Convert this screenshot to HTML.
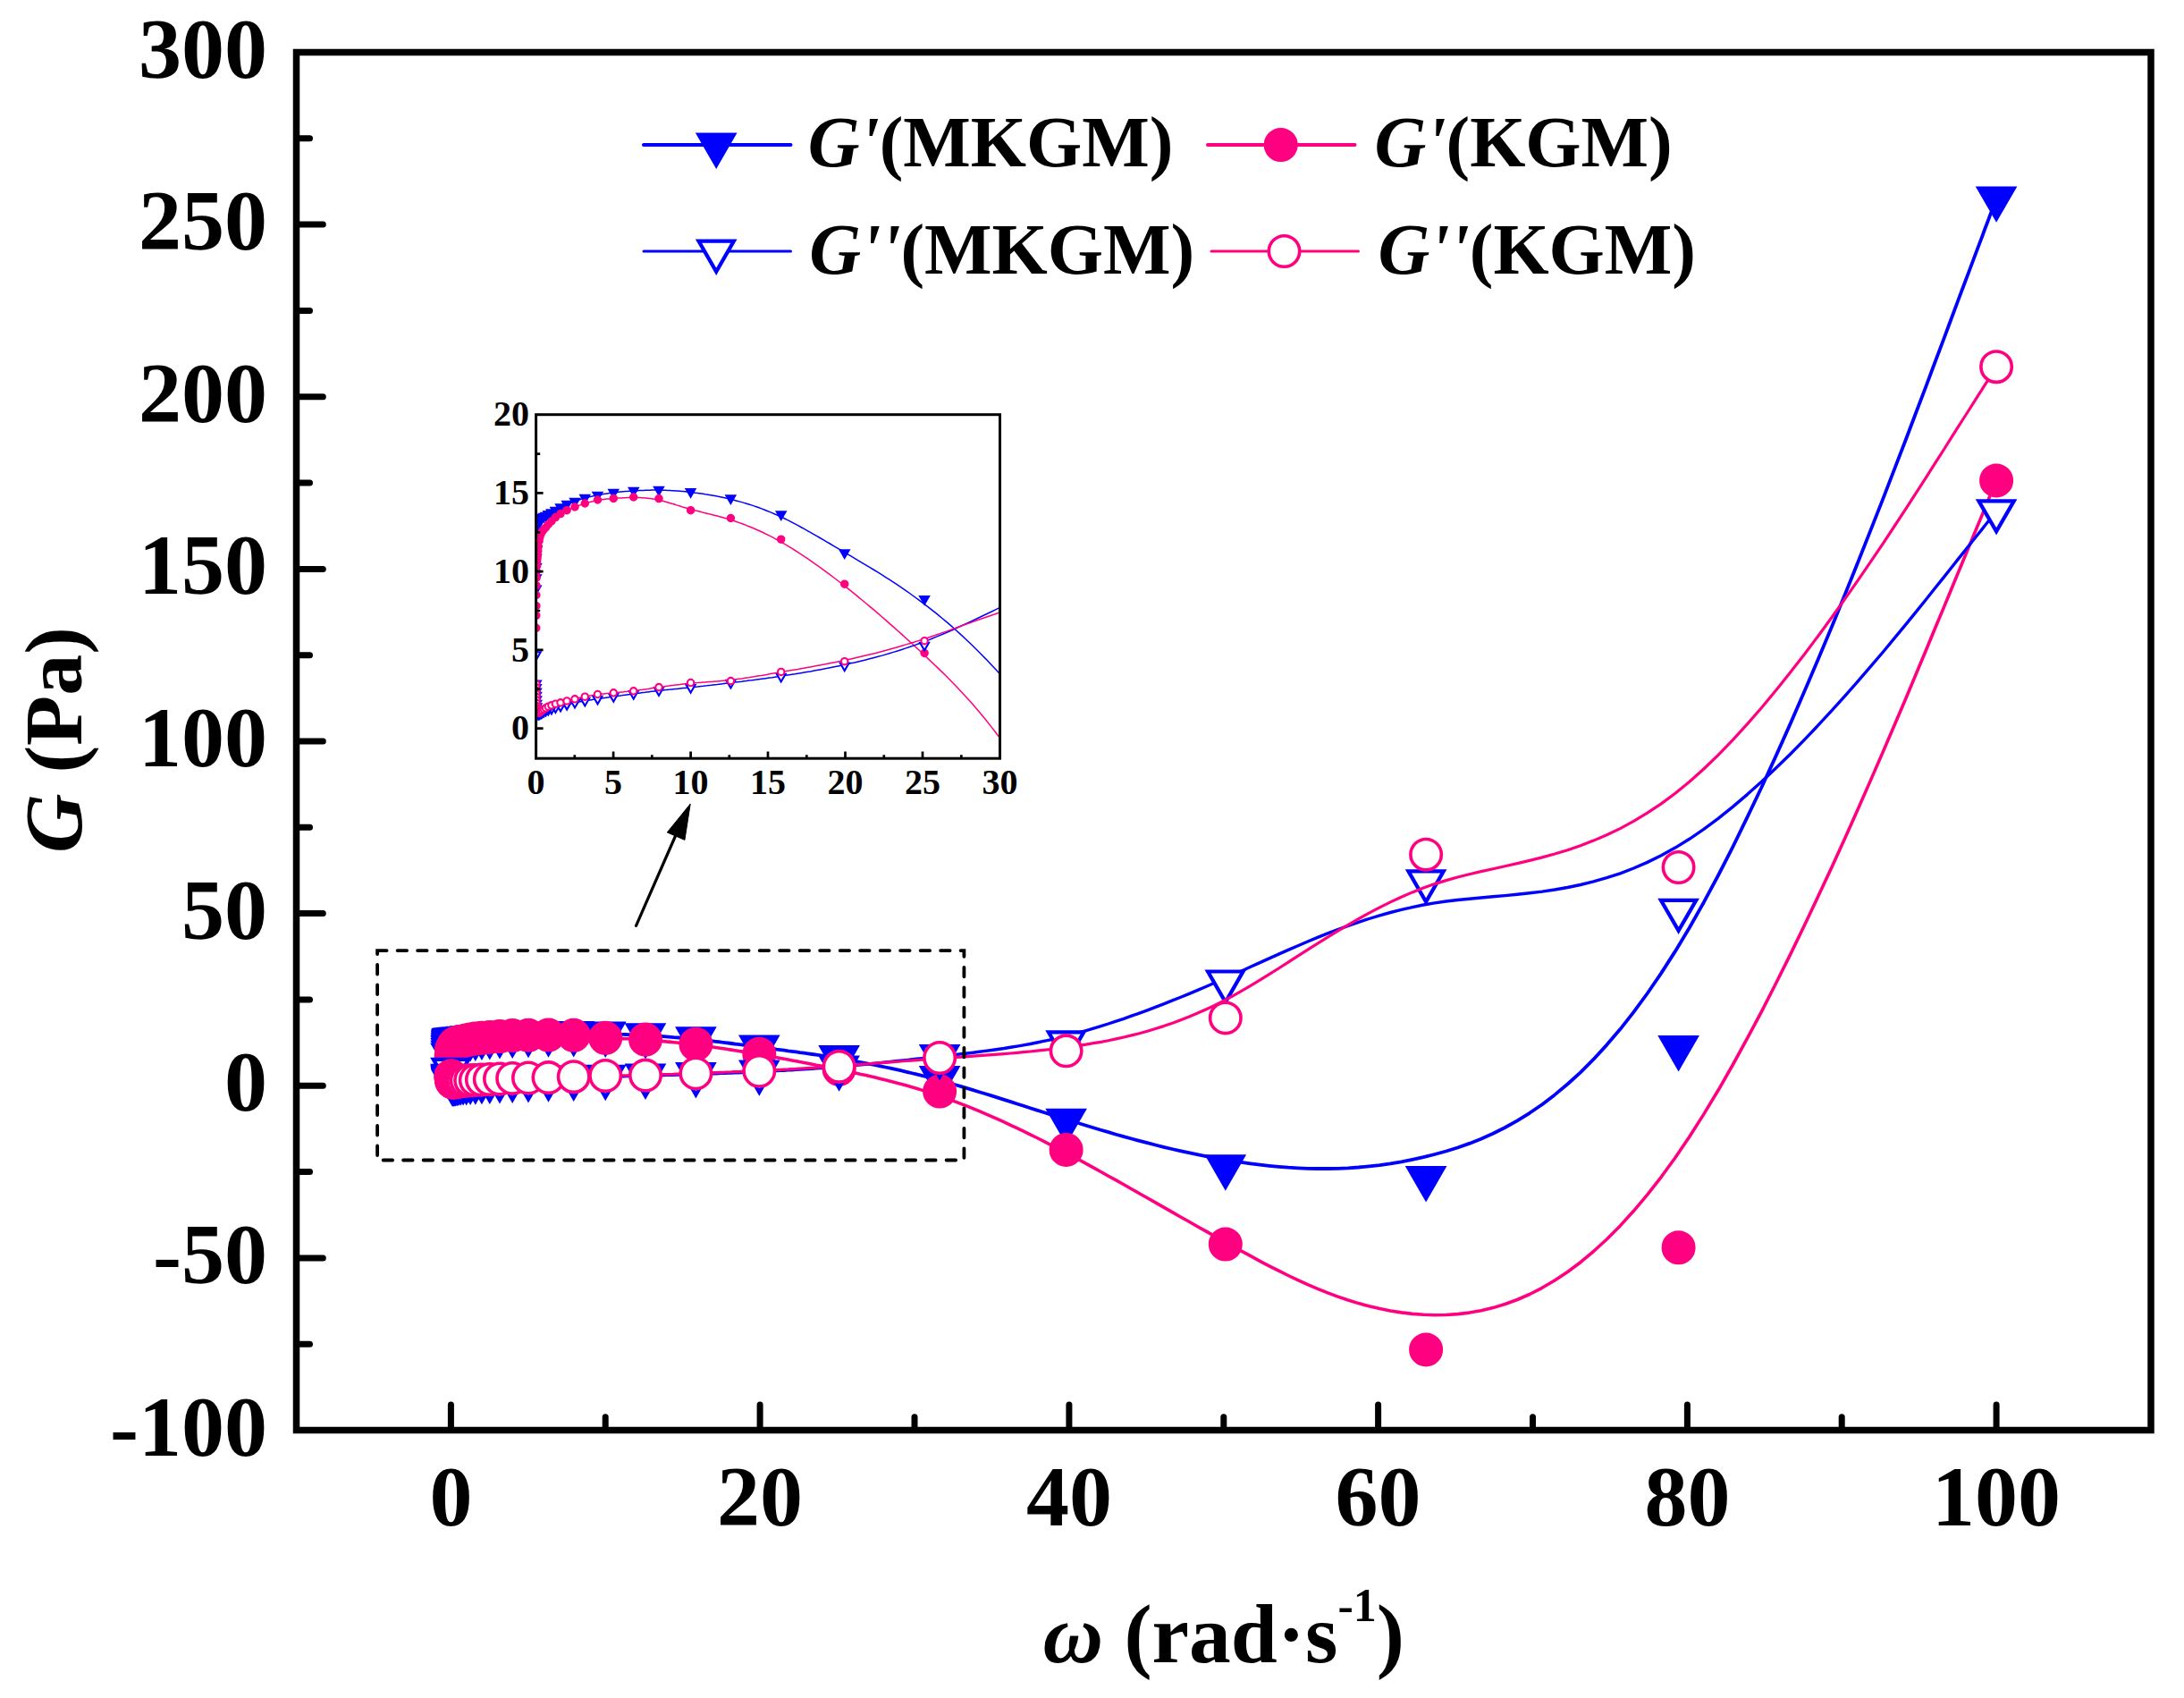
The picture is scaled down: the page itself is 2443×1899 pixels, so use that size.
<!DOCTYPE html>
<html lang="en"><head><meta charset="utf-8"><title>G vs omega</title>
<style>html,body{margin:0;padding:0;background:#fff}body{width:2443px;height:1899px;overflow:hidden}svg{display:block}text{font-family:"Liberation Serif",serif;font-weight:bold;fill:#000}.i{font-style:italic}</style></head><body>
<svg width="2443" height="1899" viewBox="0 0 2443 1899">
<rect width="2443" height="1899" fill="#fff"/>
<defs><clipPath id="cm"><rect x="331.5" y="58.5" width="2074.5" height="1541.0"/></clipPath>
<clipPath id="ci"><rect x="599.6" y="463.7" width="518.9" height="384.5"/></clipPath></defs>
<g clip-path="url(#cm)"><path d="M504.5 1180.0L504.5 1180.0L504.5 1180.0L504.5 1180.0L504.5 1180.0L504.5 1180.0L504.5 1180.0L504.5 1179.9L504.5 1179.9L504.5 1179.9L504.5 1179.9L504.5 1179.9L504.5 1179.9L504.5 1179.8L504.6 1179.8L504.6 1179.8L504.6 1179.7L504.6 1179.7L504.6 1179.6L504.6 1179.6L504.6 1179.5L504.6 1179.4L504.6 1179.4L504.6 1179.3L504.6 1179.2L504.6 1179.1L504.6 1179.0L504.6 1178.9L504.6 1178.8L504.6 1178.7L504.6 1178.6L504.6 1178.4L504.6 1178.3L504.6 1178.2L504.6 1178.1L504.6 1177.9L504.6 1177.8L504.6 1177.7L504.6 1177.5L504.6 1177.4L504.6 1177.3L504.6 1177.1L504.6 1177.0L504.6 1176.9L504.6 1176.7L504.6 1176.6L504.6 1176.5L504.6 1176.3L504.6 1176.2L504.6 1176.1L504.6 1175.9L504.6 1175.8L504.6 1175.7L504.6 1175.5L504.6 1175.4L504.6 1175.3L504.6 1175.1L504.6 1175.0L504.6 1174.9L504.6 1174.8L504.7 1174.6L504.7 1174.5L504.7 1174.4L504.7 1174.3L504.7 1174.1L504.7 1174.0L504.7 1173.9L504.7 1173.8L504.7 1173.7L504.7 1173.5L504.7 1173.4L504.7 1173.3L504.7 1173.2L504.7 1173.1L504.7 1173.0L504.7 1172.9L504.7 1172.8L504.7 1172.6L504.7 1172.5L504.7 1172.4L504.7 1172.3L504.7 1172.2L504.7 1172.1L504.7 1172.0L504.7 1171.9L504.7 1171.8L504.7 1171.7L504.8 1171.6L504.8 1171.5L504.8 1171.4L504.8 1171.3L504.8 1171.2L504.8 1171.1L504.8 1171.0L504.8 1170.9L504.8 1170.8L504.8 1170.7L504.8 1170.6L504.8 1170.5L504.8 1170.4L504.8 1170.3L504.8 1170.2L504.8 1170.1L504.8 1170.0L504.8 1169.9L504.8 1169.9L504.8 1169.8L504.8 1169.7L504.9 1169.6L504.9 1169.5L504.9 1169.4L504.9 1169.3L504.9 1169.2L504.9 1169.1L504.9 1169.0L504.9 1168.9L504.9 1168.8L504.9 1168.7L504.9 1168.6L504.9 1168.6L504.9 1168.5L504.9 1168.4L504.9 1168.3L504.9 1168.2L505.0 1168.1L505.0 1168.0L505.0 1168.0L505.0 1167.9L505.0 1167.8L505.0 1167.7L505.0 1167.7L505.0 1167.6L505.0 1167.5L505.0 1167.4L505.0 1167.4L505.0 1167.3L505.0 1167.2L505.0 1167.1L505.1 1167.1L505.1 1167.0L505.1 1166.9L505.1 1166.9L505.1 1166.8L505.1 1166.7L505.1 1166.7L505.1 1166.6L505.1 1166.5L505.1 1166.5L505.1 1166.4L505.1 1166.4L505.2 1166.3L505.2 1166.2L505.2 1166.2L505.2 1166.1L505.2 1166.1L505.2 1166.0L505.2 1166.0L505.2 1165.9L505.2 1165.8L505.2 1165.8L505.2 1165.7L505.3 1165.7L505.3 1165.6L505.3 1165.6L505.3 1165.5L505.3 1165.5L505.3 1165.4L505.3 1165.4L505.3 1165.3L505.3 1165.3L505.4 1165.2L505.4 1165.2L505.4 1165.1L505.4 1165.1L505.4 1165.0L505.4 1165.0L505.4 1165.0L505.4 1164.9L505.5 1164.9L505.5 1164.8L505.5 1164.8L505.5 1164.7L505.5 1164.7L505.5 1164.6L505.5 1164.6L505.5 1164.6L505.6 1164.5L505.6 1164.5L505.6 1164.4L505.6 1164.4L505.6 1164.4L505.6 1164.3L505.6 1164.3L505.7 1164.3L505.7 1164.2L505.7 1164.2L505.7 1164.1L505.7 1164.1L505.7 1164.1L505.7 1164.0L505.8 1164.0L505.8 1164.0L505.8 1163.9L505.8 1163.9L505.8 1163.9L505.8 1163.8L505.9 1163.8L505.9 1163.8L505.9 1163.8L505.9 1163.7L505.9 1163.7L505.9 1163.7L506.0 1163.6L506.0 1163.6L506.0 1163.6L506.0 1163.6L506.0 1163.5L506.1 1163.5L506.1 1163.5L506.1 1163.5L506.1 1163.5L506.1 1163.4L506.2 1163.4L506.2 1163.4L506.2 1163.4L506.2 1163.4L506.2 1163.4L506.3 1163.3L506.3 1163.3L506.3 1163.3L506.3 1163.3L506.4 1163.3L506.4 1163.3L506.4 1163.3L506.4 1163.3L506.4 1163.3L506.5 1163.2L506.5 1163.2L506.5 1163.2L506.5 1163.2L506.6 1163.2L506.6 1163.2L506.6 1163.2L506.6 1163.2L506.7 1163.2L506.7 1163.2L506.7 1163.1L506.8 1163.1L506.8 1163.1L506.8 1163.1L506.8 1163.1L506.9 1163.1L506.9 1163.1L506.9 1163.1L507.0 1163.1L507.0 1163.1L507.0 1163.1L507.0 1163.0L507.1 1163.0L507.1 1163.0L507.1 1163.0L507.2 1163.0L507.2 1163.0L507.2 1163.0L507.3 1163.0L507.3 1163.0L507.3 1163.0L507.4 1163.0L507.4 1163.0L507.4 1163.0L507.5 1163.0L507.5 1162.9L507.5 1162.9L507.6 1162.9L507.6 1162.9L507.7 1162.9L507.7 1162.9L507.7 1162.9L507.8 1162.9L507.8 1162.9L507.9 1162.9L507.9 1162.9L507.9 1162.9L508.0 1162.9L508.0 1162.9L508.1 1162.9L508.1 1162.9L508.1 1162.9L508.2 1162.8L508.2 1162.8L508.3 1162.8L508.3 1162.8L508.4 1162.8L508.4 1162.8L508.5 1162.8L508.5 1162.8L508.6 1162.8L508.6 1162.8L508.7 1162.8L508.7 1162.8L508.8 1162.8L508.8 1162.8L508.9 1162.8L508.9 1162.8L509.0 1162.7L509.0 1162.7L509.1 1162.7L509.1 1162.7L509.2 1162.7L509.2 1162.7L509.3 1162.7L509.3 1162.7L509.4 1162.7L509.5 1162.7L509.5 1162.7L509.6 1162.7L509.6 1162.7L509.7 1162.6L509.8 1162.6L509.8 1162.6L509.9 1162.6L510.0 1162.6L510.0 1162.6L510.1 1162.6L510.2 1162.6L510.2 1162.6L510.3 1162.6L510.4 1162.6L510.4 1162.6L510.5 1162.6L510.6 1162.5L510.6 1162.5L510.7 1162.5L510.8 1162.5L510.9 1162.5L510.9 1162.5L511.0 1162.5L511.1 1162.5L511.2 1162.5L511.2 1162.5L511.3 1162.5L511.4 1162.4L511.5 1162.4L511.6 1162.4L511.6 1162.4L511.7 1162.4L511.8 1162.4L511.9 1162.4L512.0 1162.4L512.1 1162.4L512.2 1162.4L512.3 1162.3L512.3 1162.3L512.4 1162.3L512.5 1162.3L512.6 1162.3L512.7 1162.3L512.8 1162.3L512.9 1162.3L513.0 1162.2L513.1 1162.2L513.2 1162.2L513.3 1162.2L513.4 1162.2L513.5 1162.2L513.6 1162.2L513.7 1162.2L513.8 1162.1L514.0 1162.1L514.1 1162.1L514.2 1162.1L514.3 1162.1L514.4 1162.1L514.5 1162.1L514.6 1162.0L514.8 1162.0L514.9 1162.0L515.0 1162.0L515.1 1162.0L515.3 1162.0L515.4 1162.0L515.5 1161.9L515.6 1161.9L515.8 1161.9L515.9 1161.9L516.0 1161.9L516.2 1161.9L516.3 1161.8L516.4 1161.8L516.6 1161.8L516.7 1161.8L516.9 1161.8L517.0 1161.8L517.2 1161.7L517.3 1161.7L517.5 1161.7L517.6 1161.7L517.8 1161.7L517.9 1161.7L518.1 1161.6L518.2 1161.6L518.4 1161.6L518.6 1161.6L518.7 1161.6L518.9 1161.5L519.0 1161.5L519.2 1161.5L519.4 1161.5L519.6 1161.5L519.7 1161.4L519.9 1161.4L520.1 1161.4L520.3 1161.4L520.5 1161.4L520.7 1161.3L520.8 1161.3L521.0 1161.3L521.2 1161.3L521.4 1161.3L521.6 1161.2L521.8 1161.2L522.0 1161.2L522.2 1161.2L522.4 1161.1L522.6 1161.1L522.8 1161.1L523.1 1161.1L523.3 1161.0L523.5 1161.0L523.7 1161.0L523.9 1161.0L524.2 1160.9L524.4 1160.9L524.6 1160.9L524.9 1160.8L525.1 1160.8L525.3 1160.8L525.6 1160.8L525.8 1160.7L526.1 1160.7L526.3 1160.7L526.6 1160.6L526.8 1160.6L527.1 1160.6L527.4 1160.5L527.6 1160.5L527.9 1160.5L528.2 1160.4L528.5 1160.4L528.7 1160.3L529.0 1160.3L529.3 1160.3L529.6 1160.2L529.9 1160.2L530.2 1160.2L530.5 1160.1L530.8 1160.1L531.1 1160.0L531.4 1160.0L531.7 1160.0L532.0 1159.9L532.3 1159.9L532.7 1159.9L533.0 1159.8L533.3 1159.8L533.7 1159.7L534.0 1159.7L534.3 1159.7L534.7 1159.6L535.0 1159.6L535.4 1159.5L535.7 1159.5L536.1 1159.5L536.5 1159.4L536.9 1159.4L537.2 1159.4L537.6 1159.3L538.0 1159.3L538.4 1159.3L538.8 1159.2L539.2 1159.2L539.6 1159.1L540.0 1159.1L540.4 1159.1L540.8 1159.0L541.2 1159.0L541.7 1159.0L542.1 1158.9L542.5 1158.9L543.0 1158.9L543.4 1158.8L543.9 1158.8L544.3 1158.8L544.8 1158.7L545.3 1158.7L545.7 1158.7L546.2 1158.6L546.7 1158.6L547.2 1158.5L547.7 1158.5L548.2 1158.5L548.7 1158.4L549.2 1158.4L549.7 1158.3L550.2 1158.3L550.8 1158.3L551.3 1158.2L551.9 1158.2L552.4 1158.1L553.0 1158.1L553.5 1158.1L554.1 1158.0L554.7 1158.0L555.3 1157.9L555.8 1157.9L556.4 1157.9L557.0 1157.8L557.7 1157.8L558.3 1157.7L558.9 1157.7L559.5 1157.7L560.2 1157.6L560.8 1157.6L561.5 1157.5L562.1 1157.5L562.8 1157.5L563.5 1157.4L564.2 1157.4L564.8 1157.4L565.5 1157.3L566.3 1157.3L567.0 1157.3L567.7 1157.2L568.4 1157.2L569.2 1157.2L569.9 1157.1L570.7 1157.1L571.5 1157.1L572.2 1157.0L573.0 1157.0L573.8 1157.0L574.6 1156.9L575.4 1156.9L576.2 1156.9L577.1 1156.8L577.9 1156.8L578.8 1156.8L579.6 1156.7L580.5 1156.7L581.4 1156.7L582.3 1156.6L583.2 1156.6L584.1 1156.6L585.0 1156.5L586.0 1156.5L586.9 1156.5L587.9 1156.4L588.8 1156.4L589.8 1156.4L590.8 1156.3L591.8 1156.3L592.8 1156.3L593.8 1156.3L594.9 1156.2L595.9 1156.2L597.0 1156.2L598.0 1156.2L599.1 1156.1L600.2 1156.1L601.3 1156.1L602.5 1156.1L603.6 1156.1L604.7 1156.0L605.9 1156.0L607.1 1156.0L608.3 1156.0L609.5 1156.0L610.7 1156.0L611.9 1155.9L613.2 1155.9L614.4 1155.9L615.7 1155.9L617.0 1155.9L618.3 1155.9L619.6 1155.8L620.9 1155.8L622.3 1155.8L623.7 1155.8L625.0 1155.8L626.4 1155.8L627.8 1155.8L629.3 1155.8L630.7 1155.8L632.2 1155.7L633.7 1155.7L635.2 1155.7L636.7 1155.7L638.2 1155.7L639.8 1155.7L641.3 1155.7L642.9 1155.7L644.5 1155.8L646.1 1155.8L647.8 1155.8L649.4 1155.8L651.1 1155.8L652.8 1155.8L654.5 1155.8L656.3 1155.9L658.0 1155.9L659.8 1155.9L661.6 1155.9L663.4 1156.0L665.3 1156.0L667.1 1156.0L669.0 1156.1L670.9 1156.1L672.9 1156.2L674.8 1156.2L676.8 1156.2L678.8 1156.3L680.8 1156.3L682.8 1156.4L684.9 1156.5L687.0 1156.5L689.1 1156.6L691.3 1156.7L693.4 1156.7L695.6 1156.8L697.8 1156.9L700.1 1157.0L702.3 1157.1L704.6 1157.2L706.9 1157.3L709.3 1157.4L711.7 1157.5L714.1 1157.6L716.5 1157.7L718.9 1157.8L721.4 1158.0L723.9 1158.1L726.5 1158.2L729.1 1158.4L731.7 1158.5L734.3 1158.7L737.0 1158.9L739.6 1159.0L742.4 1159.2L745.1 1159.4L747.9 1159.6L750.7 1159.8L753.6 1160.1L756.5 1160.3L759.4 1160.5L762.3 1160.8L765.3 1161.1L768.4 1161.3L771.4 1161.6L774.5 1161.9L777.6 1162.2L780.8 1162.6L784.0 1162.9L787.2 1163.3L790.5 1163.6L793.8 1164.0L797.2 1164.4L800.6 1164.8L804.0 1165.2L807.5 1165.7L811.0 1166.1L814.5 1166.5L818.1 1167.0L821.7 1167.5L825.4 1167.9L829.1 1168.4L832.9 1168.9L836.7 1169.4L840.6 1169.9L844.4 1170.4L848.4 1170.9L852.4 1171.4L856.4 1171.9L860.5 1172.5L864.6 1173.0L868.8 1173.6L873.0 1174.1L877.3 1174.7L881.6 1175.3L885.9 1175.8L890.4 1176.4L894.8 1177.1L899.3 1177.7L903.9 1178.4L908.5 1179.0L913.2 1179.7L918.0 1180.4L922.8 1181.2L927.6 1181.9L932.5 1182.7L937.5 1183.6L942.5 1184.4L947.5 1185.3L952.7 1186.2L957.9 1187.1L963.1 1188.1L968.4 1189.1L973.8 1190.1L979.2 1191.2L984.7 1192.3L990.3 1193.5L995.9 1194.7L1001.6 1195.9L1007.4 1197.2L1013.2 1198.6L1019.1 1200.0L1025.1 1201.4L1031.1 1202.9L1037.2 1204.5L1043.4 1206.1L1049.6 1207.8L1055.9 1209.5L1062.3 1211.3L1068.8 1213.2L1075.3 1215.1L1081.9 1217.1L1088.6 1219.1L1095.3 1221.2L1102.2 1223.3L1109.1 1225.4L1116.1 1227.6L1123.2 1229.9L1130.4 1232.1L1137.6 1234.5L1144.9 1236.8L1152.4 1239.2L1159.9 1241.6L1167.5 1244.0L1175.1 1246.4L1182.9 1248.9L1190.8 1251.3L1198.7 1253.8L1206.8 1256.3L1214.9 1258.8L1223.1 1261.3L1231.4 1263.8L1239.8 1266.2L1248.4 1268.7L1257.0 1271.1L1265.7 1273.5L1274.5 1275.9L1283.4 1278.2L1292.4 1280.5L1301.6 1282.8L1310.8 1285.0L1320.1 1287.1L1329.6 1289.2L1339.1 1291.1L1348.8 1293.1L1358.6 1294.9L1368.5 1296.6L1378.5 1298.3L1388.6 1299.9L1398.9 1301.3L1409.2 1302.6L1419.7 1303.8L1430.3 1304.8L1441.0 1305.7L1451.8 1306.3L1462.8 1306.8L1473.9 1307.0L1485.1 1307.0L1496.5 1306.8L1508.0 1306.3L1519.6 1305.5L1531.4 1304.4L1543.3 1303.1L1555.3 1301.4L1567.5 1299.3L1579.8 1296.9L1592.2 1294.2L1604.8 1291.0L1617.6 1287.5L1630.5 1283.5L1643.5 1278.9L1656.7 1273.7L1670.0 1267.7L1683.5 1261.0L1697.2 1253.4L1711.0 1244.8L1725.0 1235.2L1739.1 1224.4L1753.4 1212.5L1767.9 1199.3L1782.5 1184.7L1797.3 1168.6L1812.3 1151.1L1827.4 1131.9L1842.7 1111.0L1858.2 1088.4L1873.9 1063.9L1889.8 1037.5L1905.8 1009.2L1922.0 979.0L1938.2 947.3L1954.4 914.2L1970.7 880.0L1986.8 844.9L2002.8 809.1L2018.6 772.8L2034.2 736.3L2049.5 699.7L2064.4 663.3L2078.9 627.3L2092.9 591.9L2106.5 557.4L2119.4 523.9L2131.8 491.7L2143.4 461.0L2154.4 432.1L2164.5 405.0L2173.9 380.1L2182.3 357.5L2189.9 337.2L2196.7 319.0L2202.8 302.9L2208.1 288.6L2212.8 276.1L2216.9 265.3L2220.3 256.0L2223.3 248.2L2225.7 241.6L2227.7 236.3L2229.3 232.0L2230.6 228.6L2231.5 226.1L2232.2 224.3L2232.7 223.1L2232.9 222.4L2233.1 222.0L2233.1 221.9L2233.1 221.8" fill="none" stroke="#0000ff" stroke-width="3.8" stroke-linejoin="round"/><path d="M484.8 1168.6 L524.2 1168.6 L504.5 1202.7ZM484.9 1165.9 L524.3 1165.9 L504.6 1200.0ZM484.9 1163.2 L524.3 1163.2 L504.6 1197.3ZM485.0 1160.9 L524.4 1160.9 L504.7 1195.0ZM485.1 1159.0 L524.5 1159.0 L504.8 1193.1ZM485.2 1157.0 L524.6 1157.0 L504.9 1191.2ZM485.4 1155.5 L524.8 1155.5 L505.1 1189.6ZM485.5 1154.3 L524.9 1154.3 L505.2 1188.5ZM485.8 1153.4 L525.2 1153.4 L505.5 1187.5ZM486.0 1152.6 L525.4 1152.6 L505.7 1186.7ZM486.4 1152.0 L525.8 1152.0 L506.1 1186.1ZM486.9 1151.8 L526.3 1151.8 L506.6 1186.0ZM487.4 1151.6 L526.8 1151.6 L507.1 1185.8ZM488.1 1151.5 L527.5 1151.5 L507.8 1185.6ZM489.0 1151.4 L528.4 1151.4 L508.7 1185.5ZM490.1 1151.3 L529.5 1151.3 L509.8 1185.4ZM491.6 1151.1 L531.0 1151.1 L511.3 1185.2ZM493.3 1150.9 L532.7 1150.9 L513.0 1185.0ZM495.6 1150.6 L535.0 1150.6 L515.3 1184.7ZM498.4 1150.3 L537.8 1150.3 L518.1 1184.4ZM502.0 1149.9 L541.4 1149.9 L521.7 1184.0ZM506.4 1149.3 L545.8 1149.3 L526.1 1183.4ZM512.1 1148.6 L551.5 1148.6 L531.8 1182.7ZM519.2 1147.8 L558.6 1147.8 L538.9 1181.9ZM528.1 1147.1 L567.5 1147.1 L547.8 1181.3ZM539.3 1146.2 L578.7 1146.2 L559.0 1180.4ZM553.5 1145.6 L592.9 1145.6 L573.2 1179.7ZM571.3 1144.9 L610.7 1144.9 L591.0 1179.0ZM593.8 1144.5 L633.2 1144.5 L613.5 1178.6ZM622.0 1144.2 L661.4 1144.2 L641.7 1178.4ZM657.5 1144.7 L697.0 1144.7 L677.2 1178.9ZM702.3 1146.3 L741.7 1146.3 L722.0 1180.4ZM758.7 1150.3 L798.1 1150.3 L778.4 1184.4ZM829.6 1159.7 L869.0 1159.7 L849.3 1193.8ZM918.9 1171.1 L958.3 1171.1 L938.6 1205.2ZM1031.4 1194.0 L1070.8 1194.0 L1051.1 1228.1ZM1172.9 1241.8 L1212.3 1241.8 L1192.6 1275.9ZM1351.1 1293.4 L1390.5 1293.4 L1370.8 1327.5ZM1575.4 1306.1 L1614.8 1306.1 L1595.1 1340.2ZM1857.9 1160.1 L1897.3 1160.1 L1877.6 1194.2ZM2213.4 210.5 L2252.8 210.5 L2233.1 244.6Z" fill="#0000ff" stroke="#0000ff" stroke-width="4.2" stroke-linejoin="miter"/></g>
<g clip-path="url(#cm)"><path d="M504.5 1189.6L504.5 1189.6L504.5 1189.6L504.5 1189.6L504.5 1189.6L504.5 1189.6L504.5 1189.6L504.5 1189.6L504.5 1189.6L504.5 1189.5L504.5 1189.5L504.5 1189.5L504.5 1189.5L504.5 1189.5L504.6 1189.4L504.6 1189.4L504.6 1189.3L504.6 1189.3L504.6 1189.2L504.6 1189.2L504.6 1189.1L504.6 1189.0L504.6 1188.9L504.6 1188.8L504.6 1188.7L504.6 1188.6L504.6 1188.5L504.6 1188.4L504.6 1188.3L504.6 1188.1L504.6 1188.0L504.6 1187.9L504.6 1187.7L504.6 1187.6L504.6 1187.5L504.6 1187.3L504.6 1187.2L504.6 1187.1L504.6 1186.9L504.6 1186.8L504.6 1186.6L504.6 1186.5L504.6 1186.4L504.6 1186.2L504.6 1186.1L504.6 1186.0L504.6 1185.9L504.6 1185.7L504.6 1185.6L504.6 1185.5L504.6 1185.4L504.6 1185.2L504.6 1185.1L504.6 1185.0L504.6 1184.9L504.6 1184.8L504.6 1184.6L504.6 1184.5L504.6 1184.4L504.6 1184.3L504.7 1184.1L504.7 1184.0L504.7 1183.9L504.7 1183.8L504.7 1183.6L504.7 1183.5L504.7 1183.4L504.7 1183.2L504.7 1183.1L504.7 1183.0L504.7 1182.9L504.7 1182.7L504.7 1182.6L504.7 1182.5L504.7 1182.3L504.7 1182.2L504.7 1182.1L504.7 1181.9L504.7 1181.8L504.7 1181.7L504.7 1181.6L504.7 1181.4L504.7 1181.3L504.7 1181.2L504.7 1181.1L504.7 1181.0L504.7 1180.8L504.8 1180.7L504.8 1180.6L504.8 1180.5L504.8 1180.4L504.8 1180.2L504.8 1180.1L504.8 1180.0L504.8 1179.9L504.8 1179.8L504.8 1179.7L504.8 1179.6L504.8 1179.5L504.8 1179.4L504.8 1179.3L504.8 1179.2L504.8 1179.0L504.8 1178.9L504.8 1178.8L504.8 1178.7L504.8 1178.6L504.8 1178.5L504.9 1178.4L504.9 1178.3L504.9 1178.2L504.9 1178.1L504.9 1178.1L504.9 1178.0L504.9 1177.9L504.9 1177.8L504.9 1177.7L504.9 1177.6L504.9 1177.5L504.9 1177.4L504.9 1177.3L504.9 1177.2L504.9 1177.2L504.9 1177.1L505.0 1177.0L505.0 1176.9L505.0 1176.8L505.0 1176.7L505.0 1176.7L505.0 1176.6L505.0 1176.5L505.0 1176.4L505.0 1176.4L505.0 1176.3L505.0 1176.2L505.0 1176.1L505.0 1176.1L505.0 1176.0L505.1 1175.9L505.1 1175.8L505.1 1175.8L505.1 1175.7L505.1 1175.6L505.1 1175.5L505.1 1175.5L505.1 1175.4L505.1 1175.3L505.1 1175.3L505.1 1175.2L505.1 1175.1L505.2 1175.1L505.2 1175.0L505.2 1174.9L505.2 1174.9L505.2 1174.8L505.2 1174.7L505.2 1174.7L505.2 1174.6L505.2 1174.6L505.2 1174.5L505.2 1174.4L505.3 1174.4L505.3 1174.3L505.3 1174.3L505.3 1174.2L505.3 1174.2L505.3 1174.1L505.3 1174.1L505.3 1174.0L505.3 1174.0L505.4 1173.9L505.4 1173.9L505.4 1173.8L505.4 1173.8L505.4 1173.7L505.4 1173.7L505.4 1173.6L505.4 1173.6L505.5 1173.5L505.5 1173.5L505.5 1173.4L505.5 1173.4L505.5 1173.4L505.5 1173.3L505.5 1173.3L505.5 1173.2L505.6 1173.2L505.6 1173.2L505.6 1173.1L505.6 1173.1L505.6 1173.0L505.6 1173.0L505.6 1173.0L505.7 1172.9L505.7 1172.9L505.7 1172.8L505.7 1172.8L505.7 1172.8L505.7 1172.7L505.7 1172.7L505.8 1172.6L505.8 1172.6L505.8 1172.6L505.8 1172.5L505.8 1172.5L505.8 1172.4L505.9 1172.4L505.9 1172.4L505.9 1172.3L505.9 1172.3L505.9 1172.2L505.9 1172.2L506.0 1172.2L506.0 1172.1L506.0 1172.1L506.0 1172.0L506.0 1172.0L506.1 1171.9L506.1 1171.9L506.1 1171.9L506.1 1171.8L506.1 1171.8L506.2 1171.7L506.2 1171.7L506.2 1171.6L506.2 1171.6L506.2 1171.5L506.3 1171.5L506.3 1171.4L506.3 1171.3L506.3 1171.3L506.4 1171.2L506.4 1171.2L506.4 1171.1L506.4 1171.1L506.4 1171.0L506.5 1170.9L506.5 1170.9L506.5 1170.8L506.5 1170.8L506.6 1170.7L506.6 1170.7L506.6 1170.6L506.6 1170.5L506.7 1170.5L506.7 1170.4L506.7 1170.4L506.8 1170.3L506.8 1170.3L506.8 1170.2L506.8 1170.1L506.9 1170.1L506.9 1170.0L506.9 1170.0L507.0 1169.9L507.0 1169.8L507.0 1169.8L507.0 1169.7L507.1 1169.7L507.1 1169.6L507.1 1169.5L507.2 1169.5L507.2 1169.4L507.2 1169.3L507.3 1169.3L507.3 1169.2L507.3 1169.1L507.4 1169.1L507.4 1169.0L507.4 1169.0L507.5 1168.9L507.5 1168.8L507.5 1168.8L507.6 1168.7L507.6 1168.6L507.7 1168.6L507.7 1168.5L507.7 1168.5L507.8 1168.4L507.8 1168.3L507.9 1168.3L507.9 1168.2L507.9 1168.2L508.0 1168.1L508.0 1168.1L508.1 1168.0L508.1 1167.9L508.1 1167.9L508.2 1167.8L508.2 1167.8L508.3 1167.7L508.3 1167.7L508.4 1167.6L508.4 1167.6L508.5 1167.6L508.5 1167.5L508.6 1167.5L508.6 1167.4L508.7 1167.4L508.7 1167.3L508.8 1167.3L508.8 1167.2L508.9 1167.2L508.9 1167.2L509.0 1167.1L509.0 1167.1L509.1 1167.0L509.1 1167.0L509.2 1167.0L509.2 1166.9L509.3 1166.9L509.3 1166.8L509.4 1166.8L509.5 1166.8L509.5 1166.7L509.6 1166.7L509.6 1166.6L509.7 1166.6L509.8 1166.6L509.8 1166.5L509.9 1166.5L510.0 1166.5L510.0 1166.4L510.1 1166.4L510.2 1166.4L510.2 1166.3L510.3 1166.3L510.4 1166.3L510.4 1166.3L510.5 1166.2L510.6 1166.2L510.6 1166.2L510.7 1166.1L510.8 1166.1L510.9 1166.1L510.9 1166.1L511.0 1166.0L511.1 1166.0L511.2 1166.0L511.2 1165.9L511.3 1165.9L511.4 1165.9L511.5 1165.9L511.6 1165.8L511.6 1165.8L511.7 1165.8L511.8 1165.8L511.9 1165.7L512.0 1165.7L512.1 1165.7L512.2 1165.7L512.3 1165.6L512.3 1165.6L512.4 1165.6L512.5 1165.6L512.6 1165.5L512.7 1165.5L512.8 1165.5L512.9 1165.5L513.0 1165.4L513.1 1165.4L513.2 1165.4L513.3 1165.4L513.4 1165.3L513.5 1165.3L513.6 1165.3L513.7 1165.3L513.8 1165.2L514.0 1165.2L514.1 1165.2L514.2 1165.2L514.3 1165.1L514.4 1165.1L514.5 1165.1L514.6 1165.1L514.8 1165.0L514.9 1165.0L515.0 1165.0L515.1 1164.9L515.3 1164.9L515.4 1164.9L515.5 1164.9L515.6 1164.8L515.8 1164.8L515.9 1164.8L516.0 1164.7L516.2 1164.7L516.3 1164.7L516.4 1164.6L516.6 1164.6L516.7 1164.5L516.9 1164.5L517.0 1164.5L517.2 1164.4L517.3 1164.4L517.5 1164.4L517.6 1164.3L517.8 1164.3L517.9 1164.2L518.1 1164.2L518.2 1164.2L518.4 1164.1L518.6 1164.1L518.7 1164.1L518.9 1164.0L519.0 1164.0L519.2 1163.9L519.4 1163.9L519.6 1163.9L519.7 1163.8L519.9 1163.8L520.1 1163.7L520.3 1163.7L520.5 1163.7L520.7 1163.6L520.8 1163.6L521.0 1163.5L521.2 1163.5L521.4 1163.5L521.6 1163.4L521.8 1163.4L522.0 1163.3L522.2 1163.3L522.4 1163.2L522.6 1163.2L522.8 1163.1L523.1 1163.1L523.3 1163.1L523.5 1163.0L523.7 1163.0L523.9 1162.9L524.2 1162.9L524.4 1162.8L524.6 1162.8L524.9 1162.7L525.1 1162.7L525.3 1162.6L525.6 1162.6L525.8 1162.5L526.1 1162.5L526.3 1162.4L526.6 1162.4L526.8 1162.4L527.1 1162.3L527.4 1162.3L527.6 1162.2L527.9 1162.2L528.2 1162.1L528.5 1162.1L528.7 1162.0L529.0 1162.0L529.3 1161.9L529.6 1161.9L529.9 1161.9L530.2 1161.8L530.5 1161.8L530.8 1161.7L531.1 1161.7L531.4 1161.6L531.7 1161.6L532.0 1161.6L532.3 1161.5L532.7 1161.5L533.0 1161.4L533.3 1161.4L533.7 1161.3L534.0 1161.3L534.3 1161.3L534.7 1161.2L535.0 1161.2L535.4 1161.1L535.7 1161.1L536.1 1161.0L536.5 1161.0L536.9 1161.0L537.2 1160.9L537.6 1160.9L538.0 1160.8L538.4 1160.8L538.8 1160.7L539.2 1160.7L539.6 1160.7L540.0 1160.6L540.4 1160.6L540.8 1160.5L541.2 1160.5L541.7 1160.4L542.1 1160.4L542.5 1160.4L543.0 1160.3L543.4 1160.3L543.9 1160.2L544.3 1160.2L544.8 1160.1L545.3 1160.1L545.7 1160.1L546.2 1160.0L546.7 1160.0L547.2 1159.9L547.7 1159.9L548.2 1159.9L548.7 1159.8L549.2 1159.8L549.7 1159.7L550.2 1159.7L550.8 1159.6L551.3 1159.6L551.9 1159.6L552.4 1159.5L553.0 1159.5L553.5 1159.4L554.1 1159.4L554.7 1159.3L555.3 1159.3L555.8 1159.3L556.4 1159.2L557.0 1159.2L557.7 1159.1L558.3 1159.1L558.9 1159.0L559.5 1159.0L560.2 1159.0L560.8 1158.9L561.5 1158.9L562.1 1158.8L562.8 1158.8L563.5 1158.7L564.2 1158.7L564.8 1158.7L565.5 1158.6L566.3 1158.6L567.0 1158.5L567.7 1158.5L568.4 1158.5L569.2 1158.4L569.9 1158.4L570.7 1158.3L571.5 1158.3L572.2 1158.3L573.0 1158.2L573.8 1158.2L574.6 1158.2L575.4 1158.1L576.2 1158.1L577.1 1158.1L577.9 1158.1L578.8 1158.0L579.6 1158.0L580.5 1158.0L581.4 1158.0L582.3 1158.0L583.2 1157.9L584.1 1157.9L585.0 1157.9L586.0 1157.9L586.9 1157.9L587.9 1157.8L588.8 1157.8L589.8 1157.8L590.8 1157.8L591.8 1157.8L592.8 1157.8L593.8 1157.7L594.9 1157.7L595.9 1157.7L597.0 1157.7L598.0 1157.7L599.1 1157.7L600.2 1157.7L601.3 1157.6L602.5 1157.6L603.6 1157.6L604.7 1157.6L605.9 1157.6L607.1 1157.6L608.3 1157.6L609.5 1157.6L610.7 1157.6L611.9 1157.6L613.2 1157.6L614.4 1157.6L615.7 1157.6L617.0 1157.6L618.3 1157.6L619.6 1157.6L620.9 1157.6L622.3 1157.6L623.7 1157.6L625.0 1157.7L626.4 1157.7L627.8 1157.7L629.3 1157.7L630.7 1157.8L632.2 1157.8L633.7 1157.9L635.2 1157.9L636.7 1158.0L638.2 1158.0L639.8 1158.1L641.3 1158.2L642.9 1158.2L644.5 1158.3L646.1 1158.4L647.8 1158.5L649.4 1158.6L651.1 1158.7L652.8 1158.8L654.5 1158.9L656.3 1159.0L658.0 1159.2L659.8 1159.3L661.6 1159.4L663.4 1159.5L665.3 1159.7L667.1 1159.8L669.0 1159.9L670.9 1160.0L672.9 1160.2L674.8 1160.3L676.8 1160.4L678.8 1160.5L680.8 1160.7L682.8 1160.8L684.9 1160.9L687.0 1161.0L689.1 1161.1L691.3 1161.2L693.4 1161.4L695.6 1161.5L697.8 1161.6L700.1 1161.7L702.3 1161.8L704.6 1162.0L706.9 1162.1L709.3 1162.2L711.7 1162.4L714.1 1162.5L716.5 1162.7L718.9 1162.8L721.4 1163.0L723.9 1163.2L726.5 1163.4L729.1 1163.5L731.7 1163.7L734.3 1164.0L737.0 1164.2L739.6 1164.4L742.4 1164.6L745.1 1164.9L747.9 1165.1L750.7 1165.4L753.6 1165.7L756.5 1166.0L759.4 1166.3L762.3 1166.6L765.3 1166.9L768.4 1167.3L771.4 1167.6L774.5 1168.0L777.6 1168.4L780.8 1168.8L784.0 1169.2L787.2 1169.6L790.5 1170.1L793.8 1170.5L797.2 1171.0L800.6 1171.5L804.0 1172.0L807.5 1172.5L811.0 1173.0L814.5 1173.6L818.1 1174.1L821.7 1174.7L825.4 1175.3L829.1 1175.9L832.9 1176.5L836.7 1177.1L840.6 1177.8L844.4 1178.4L848.4 1179.1L852.4 1179.8L856.4 1180.5L860.5 1181.2L864.6 1182.0L868.8 1182.7L873.0 1183.5L877.3 1184.3L881.6 1185.1L885.9 1185.9L890.4 1186.7L894.8 1187.6L899.3 1188.4L903.9 1189.3L908.5 1190.2L913.2 1191.2L918.0 1192.1L922.8 1193.0L927.6 1194.0L932.5 1195.0L937.5 1196.0L942.5 1197.1L947.5 1198.1L952.7 1199.2L957.9 1200.3L963.1 1201.5L968.4 1202.6L973.8 1203.8L979.2 1205.1L984.7 1206.4L990.3 1207.8L995.9 1209.2L1001.6 1210.7L1007.4 1212.2L1013.2 1213.8L1019.1 1215.5L1025.1 1217.3L1031.1 1219.1L1037.2 1221.0L1043.4 1223.0L1049.6 1225.1L1055.9 1227.3L1062.3 1229.7L1068.8 1232.1L1075.3 1234.6L1081.9 1237.2L1088.6 1239.9L1095.3 1242.7L1102.2 1245.6L1109.1 1248.6L1116.1 1251.7L1123.2 1254.9L1130.4 1258.3L1137.6 1261.7L1144.9 1265.2L1152.4 1268.8L1159.9 1272.5L1167.5 1276.3L1175.1 1280.3L1182.9 1284.3L1190.8 1288.4L1198.7 1292.6L1206.8 1296.9L1214.9 1301.4L1223.1 1305.9L1231.4 1310.5L1239.8 1315.2L1248.4 1319.9L1257.0 1324.8L1265.7 1329.7L1274.5 1334.7L1283.4 1339.8L1292.4 1344.9L1301.6 1350.1L1310.8 1355.4L1320.1 1360.7L1329.6 1366.0L1339.1 1371.5L1348.8 1376.9L1358.6 1382.4L1368.5 1387.9L1378.5 1393.5L1388.6 1399.1L1398.9 1404.7L1409.2 1410.3L1419.7 1415.8L1430.3 1421.2L1441.0 1426.5L1451.8 1431.6L1462.8 1436.6L1473.9 1441.3L1485.1 1445.8L1496.5 1450.1L1508.0 1454.0L1519.6 1457.6L1531.4 1460.8L1543.3 1463.6L1555.3 1466.0L1567.5 1467.9L1579.8 1469.4L1592.2 1470.3L1604.8 1470.7L1617.6 1470.5L1630.5 1469.6L1643.5 1468.1L1656.7 1465.8L1670.0 1462.6L1683.5 1458.5L1697.2 1453.5L1711.0 1447.5L1725.0 1440.3L1739.1 1432.0L1753.4 1422.5L1767.9 1411.7L1782.5 1399.5L1797.3 1386.0L1812.3 1370.9L1827.4 1354.3L1842.7 1336.1L1858.2 1316.3L1873.9 1294.7L1889.8 1271.3L1905.8 1246.1L1922.0 1219.3L1938.2 1191.0L1954.4 1161.4L1970.7 1130.8L1986.8 1099.3L2002.8 1067.1L2018.6 1034.5L2034.2 1001.6L2049.5 968.7L2064.4 935.9L2078.9 903.5L2092.9 871.6L2106.5 840.4L2119.4 810.2L2131.8 781.2L2143.4 753.5L2154.4 727.3L2164.5 702.8L2173.9 680.4L2182.3 660.0L2189.9 641.6L2196.7 625.2L2202.8 610.6L2208.1 597.7L2212.8 586.4L2216.9 576.6L2220.3 568.3L2223.3 561.2L2225.7 555.2L2227.7 550.4L2229.3 546.5L2230.6 543.5L2231.5 541.2L2232.2 539.6L2232.7 538.5L2232.9 537.8L2233.1 537.5L2233.1 537.4L2233.1 537.4" fill="none" stroke="#ff0080" stroke-width="3.6" stroke-linejoin="round"/><circle cx="504.5" cy="1189.6" r="17.2" fill="#ff0080" stroke="#ff0080" stroke-width="3.6"/><circle cx="504.6" cy="1186.5" r="17.2" fill="#ff0080" stroke="#ff0080" stroke-width="3.6"/><circle cx="504.6" cy="1184.2" r="17.2" fill="#ff0080" stroke="#ff0080" stroke-width="3.6"/><circle cx="504.7" cy="1181.5" r="17.2" fill="#ff0080" stroke="#ff0080" stroke-width="3.6"/><circle cx="504.8" cy="1179.2" r="17.2" fill="#ff0080" stroke="#ff0080" stroke-width="3.6"/><circle cx="504.9" cy="1177.3" r="17.2" fill="#ff0080" stroke="#ff0080" stroke-width="3.6"/><circle cx="505.1" cy="1175.7" r="17.2" fill="#ff0080" stroke="#ff0080" stroke-width="3.6"/><circle cx="505.2" cy="1174.4" r="17.2" fill="#ff0080" stroke="#ff0080" stroke-width="3.6"/><circle cx="505.5" cy="1173.4" r="17.2" fill="#ff0080" stroke="#ff0080" stroke-width="3.6"/><circle cx="505.7" cy="1172.6" r="17.2" fill="#ff0080" stroke="#ff0080" stroke-width="3.6"/><circle cx="506.1" cy="1171.9" r="17.2" fill="#ff0080" stroke="#ff0080" stroke-width="3.6"/><circle cx="506.6" cy="1170.7" r="17.2" fill="#ff0080" stroke="#ff0080" stroke-width="3.6"/><circle cx="507.1" cy="1169.6" r="17.2" fill="#ff0080" stroke="#ff0080" stroke-width="3.6"/><circle cx="507.8" cy="1168.2" r="17.2" fill="#ff0080" stroke="#ff0080" stroke-width="3.6"/><circle cx="508.7" cy="1167.2" r="17.2" fill="#ff0080" stroke="#ff0080" stroke-width="3.6"/><circle cx="509.8" cy="1166.5" r="17.2" fill="#ff0080" stroke="#ff0080" stroke-width="3.6"/><circle cx="511.3" cy="1165.9" r="17.2" fill="#ff0080" stroke="#ff0080" stroke-width="3.6"/><circle cx="513.0" cy="1165.4" r="17.2" fill="#ff0080" stroke="#ff0080" stroke-width="3.6"/><circle cx="515.3" cy="1164.9" r="17.2" fill="#ff0080" stroke="#ff0080" stroke-width="3.6"/><circle cx="518.1" cy="1164.2" r="17.2" fill="#ff0080" stroke="#ff0080" stroke-width="3.6"/><circle cx="521.7" cy="1163.4" r="17.2" fill="#ff0080" stroke="#ff0080" stroke-width="3.6"/><circle cx="526.1" cy="1162.4" r="17.2" fill="#ff0080" stroke="#ff0080" stroke-width="3.6"/><circle cx="531.8" cy="1161.5" r="17.2" fill="#ff0080" stroke="#ff0080" stroke-width="3.6"/><circle cx="538.9" cy="1160.7" r="17.2" fill="#ff0080" stroke="#ff0080" stroke-width="3.6"/><circle cx="547.8" cy="1159.9" r="17.2" fill="#ff0080" stroke="#ff0080" stroke-width="3.6"/><circle cx="559.0" cy="1159.0" r="17.2" fill="#ff0080" stroke="#ff0080" stroke-width="3.6"/><circle cx="573.2" cy="1158.1" r="17.2" fill="#ff0080" stroke="#ff0080" stroke-width="3.6"/><circle cx="591.0" cy="1157.8" r="17.2" fill="#ff0080" stroke="#ff0080" stroke-width="3.6"/><circle cx="613.5" cy="1157.5" r="17.2" fill="#ff0080" stroke="#ff0080" stroke-width="3.6"/><circle cx="641.7" cy="1157.8" r="17.2" fill="#ff0080" stroke="#ff0080" stroke-width="3.6"/><circle cx="677.2" cy="1160.7" r="17.2" fill="#ff0080" stroke="#ff0080" stroke-width="3.6"/><circle cx="722.0" cy="1162.6" r="17.2" fill="#ff0080" stroke="#ff0080" stroke-width="3.6"/><circle cx="778.4" cy="1167.8" r="17.2" fill="#ff0080" stroke="#ff0080" stroke-width="3.6"/><circle cx="849.3" cy="1178.8" r="17.2" fill="#ff0080" stroke="#ff0080" stroke-width="3.6"/><circle cx="938.6" cy="1195.8" r="17.2" fill="#ff0080" stroke="#ff0080" stroke-width="3.6"/><circle cx="1051.1" cy="1220.6" r="17.2" fill="#ff0080" stroke="#ff0080" stroke-width="3.6"/><circle cx="1192.6" cy="1285.9" r="17.2" fill="#ff0080" stroke="#ff0080" stroke-width="3.6"/><circle cx="1370.8" cy="1391.5" r="17.2" fill="#ff0080" stroke="#ff0080" stroke-width="3.6"/><circle cx="1595.1" cy="1509.4" r="17.2" fill="#ff0080" stroke="#ff0080" stroke-width="3.6"/><circle cx="1877.6" cy="1395.3" r="17.2" fill="#ff0080" stroke="#ff0080" stroke-width="3.6"/><circle cx="2233.1" cy="537.4" r="17.2" fill="#ff0080" stroke="#ff0080" stroke-width="3.6"/></g>
<g clip-path="url(#cm)"><path d="M504.5 1196.1L504.5 1196.1L504.5 1196.1L504.5 1196.1L504.5 1196.2L504.5 1196.2L504.5 1196.2L504.5 1196.2L504.5 1196.2L504.5 1196.3L504.5 1196.3L504.5 1196.3L504.5 1196.4L504.5 1196.5L504.6 1196.5L504.6 1196.6L504.6 1196.7L504.6 1196.9L504.6 1197.0L504.6 1197.2L504.6 1197.3L504.6 1197.5L504.6 1197.7L504.6 1197.9L504.6 1198.2L504.6 1198.4L504.6 1198.6L504.6 1198.9L504.6 1199.2L504.6 1199.4L504.6 1199.7L504.6 1200.0L504.6 1200.3L504.6 1200.5L504.6 1200.8L504.6 1201.1L504.6 1201.3L504.6 1201.5L504.6 1201.8L504.6 1202.0L504.6 1202.2L504.6 1202.4L504.6 1202.6L504.6 1202.8L504.6 1202.9L504.6 1203.1L504.6 1203.2L504.6 1203.3L504.6 1203.4L504.6 1203.5L504.6 1203.6L504.6 1203.7L504.6 1203.8L504.6 1203.8L504.6 1203.9L504.6 1204.0L504.6 1204.0L504.6 1204.1L504.6 1204.1L504.6 1204.2L504.7 1204.2L504.7 1204.3L504.7 1204.3L504.7 1204.4L504.7 1204.4L504.7 1204.5L504.7 1204.5L504.7 1204.6L504.7 1204.6L504.7 1204.7L504.7 1204.7L504.7 1204.8L504.7 1204.8L504.7 1204.9L504.7 1204.9L504.7 1205.0L504.7 1205.0L504.7 1205.1L504.7 1205.1L504.7 1205.1L504.7 1205.2L504.7 1205.2L504.7 1205.3L504.7 1205.3L504.7 1205.4L504.7 1205.4L504.7 1205.5L504.8 1205.5L504.8 1205.6L504.8 1205.6L504.8 1205.7L504.8 1205.7L504.8 1205.8L504.8 1205.8L504.8 1205.9L504.8 1205.9L504.8 1206.0L504.8 1206.0L504.8 1206.1L504.8 1206.1L504.8 1206.2L504.8 1206.2L504.8 1206.3L504.8 1206.3L504.8 1206.4L504.8 1206.4L504.8 1206.4L504.8 1206.5L504.9 1206.5L504.9 1206.6L504.9 1206.6L504.9 1206.7L504.9 1206.7L504.9 1206.8L504.9 1206.8L504.9 1206.9L504.9 1206.9L504.9 1207.0L504.9 1207.0L504.9 1207.1L504.9 1207.1L504.9 1207.2L504.9 1207.2L504.9 1207.3L505.0 1207.3L505.0 1207.4L505.0 1207.4L505.0 1207.5L505.0 1207.5L505.0 1207.6L505.0 1207.6L505.0 1207.6L505.0 1207.7L505.0 1207.7L505.0 1207.8L505.0 1207.8L505.0 1207.9L505.0 1207.9L505.1 1208.0L505.1 1208.0L505.1 1208.1L505.1 1208.1L505.1 1208.1L505.1 1208.2L505.1 1208.2L505.1 1208.3L505.1 1208.3L505.1 1208.3L505.1 1208.4L505.1 1208.4L505.2 1208.5L505.2 1208.5L505.2 1208.5L505.2 1208.6L505.2 1208.6L505.2 1208.7L505.2 1208.7L505.2 1208.7L505.2 1208.8L505.2 1208.8L505.2 1208.9L505.3 1208.9L505.3 1208.9L505.3 1209.0L505.3 1209.0L505.3 1209.0L505.3 1209.1L505.3 1209.1L505.3 1209.2L505.3 1209.2L505.4 1209.2L505.4 1209.3L505.4 1209.3L505.4 1209.3L505.4 1209.4L505.4 1209.4L505.4 1209.5L505.4 1209.5L505.5 1209.5L505.5 1209.6L505.5 1209.6L505.5 1209.6L505.5 1209.7L505.5 1209.7L505.5 1209.7L505.5 1209.8L505.6 1209.8L505.6 1209.8L505.6 1209.8L505.6 1209.9L505.6 1209.9L505.6 1209.9L505.6 1210.0L505.7 1210.0L505.7 1210.0L505.7 1210.0L505.7 1210.1L505.7 1210.1L505.7 1210.1L505.7 1210.1L505.8 1210.2L505.8 1210.2L505.8 1210.2L505.8 1210.2L505.8 1210.2L505.8 1210.3L505.9 1210.3L505.9 1210.3L505.9 1210.3L505.9 1210.3L505.9 1210.4L505.9 1210.4L506.0 1210.4L506.0 1210.4L506.0 1210.4L506.0 1210.4L506.0 1210.4L506.1 1210.5L506.1 1210.5L506.1 1210.5L506.1 1210.5L506.1 1210.5L506.2 1210.5L506.2 1210.5L506.2 1210.5L506.2 1210.5L506.2 1210.5L506.3 1210.6L506.3 1210.6L506.3 1210.6L506.3 1210.6L506.4 1210.6L506.4 1210.6L506.4 1210.6L506.4 1210.6L506.4 1210.6L506.5 1210.6L506.5 1210.6L506.5 1210.6L506.5 1210.6L506.6 1210.6L506.6 1210.7L506.6 1210.7L506.6 1210.7L506.7 1210.7L506.7 1210.7L506.7 1210.7L506.8 1210.7L506.8 1210.7L506.8 1210.7L506.8 1210.7L506.9 1210.7L506.9 1210.7L506.9 1210.7L507.0 1210.7L507.0 1210.7L507.0 1210.7L507.0 1210.7L507.1 1210.7L507.1 1210.7L507.1 1210.7L507.2 1210.7L507.2 1210.7L507.2 1210.7L507.3 1210.7L507.3 1210.7L507.3 1210.7L507.4 1210.7L507.4 1210.7L507.4 1210.7L507.5 1210.7L507.5 1210.7L507.5 1210.7L507.6 1210.7L507.6 1210.7L507.7 1210.7L507.7 1210.7L507.7 1210.7L507.8 1210.7L507.8 1210.7L507.9 1210.7L507.9 1210.7L507.9 1210.7L508.0 1210.7L508.0 1210.6L508.1 1210.6L508.1 1210.6L508.1 1210.6L508.2 1210.6L508.2 1210.6L508.3 1210.6L508.3 1210.6L508.4 1210.6L508.4 1210.6L508.5 1210.6L508.5 1210.6L508.6 1210.6L508.6 1210.6L508.7 1210.6L508.7 1210.6L508.8 1210.6L508.8 1210.6L508.9 1210.6L508.9 1210.6L509.0 1210.6L509.0 1210.6L509.1 1210.6L509.1 1210.5L509.2 1210.5L509.2 1210.5L509.3 1210.5L509.3 1210.5L509.4 1210.5L509.5 1210.5L509.5 1210.5L509.6 1210.5L509.6 1210.5L509.7 1210.5L509.8 1210.5L509.8 1210.5L509.9 1210.5L510.0 1210.5L510.0 1210.5L510.1 1210.4L510.2 1210.4L510.2 1210.4L510.3 1210.4L510.4 1210.4L510.4 1210.4L510.5 1210.4L510.6 1210.4L510.6 1210.4L510.7 1210.4L510.8 1210.4L510.9 1210.4L510.9 1210.4L511.0 1210.3L511.1 1210.3L511.2 1210.3L511.2 1210.3L511.3 1210.3L511.4 1210.3L511.5 1210.3L511.6 1210.3L511.6 1210.3L511.7 1210.3L511.8 1210.3L511.9 1210.3L512.0 1210.2L512.1 1210.2L512.2 1210.2L512.3 1210.2L512.3 1210.2L512.4 1210.2L512.5 1210.2L512.6 1210.2L512.7 1210.2L512.8 1210.2L512.9 1210.1L513.0 1210.1L513.1 1210.1L513.2 1210.1L513.3 1210.1L513.4 1210.1L513.5 1210.1L513.6 1210.1L513.7 1210.1L513.8 1210.0L514.0 1210.0L514.1 1210.0L514.2 1210.0L514.3 1210.0L514.4 1210.0L514.5 1210.0L514.6 1210.0L514.8 1210.0L514.9 1209.9L515.0 1209.9L515.1 1209.9L515.3 1209.9L515.4 1209.9L515.5 1209.9L515.6 1209.9L515.8 1209.9L515.9 1209.9L516.0 1209.8L516.2 1209.8L516.3 1209.8L516.4 1209.8L516.6 1209.8L516.7 1209.8L516.9 1209.8L517.0 1209.8L517.2 1209.7L517.3 1209.7L517.5 1209.7L517.6 1209.7L517.8 1209.7L517.9 1209.7L518.1 1209.7L518.2 1209.7L518.4 1209.7L518.6 1209.6L518.7 1209.6L518.9 1209.6L519.0 1209.6L519.2 1209.6L519.4 1209.6L519.6 1209.6L519.7 1209.6L519.9 1209.5L520.1 1209.5L520.3 1209.5L520.5 1209.5L520.7 1209.5L520.8 1209.5L521.0 1209.5L521.2 1209.5L521.4 1209.4L521.6 1209.4L521.8 1209.4L522.0 1209.4L522.2 1209.4L522.4 1209.4L522.6 1209.4L522.8 1209.4L523.1 1209.3L523.3 1209.3L523.5 1209.3L523.7 1209.3L523.9 1209.3L524.2 1209.3L524.4 1209.2L524.6 1209.2L524.9 1209.2L525.1 1209.2L525.3 1209.2L525.6 1209.2L525.8 1209.2L526.1 1209.1L526.3 1209.1L526.6 1209.1L526.8 1209.1L527.1 1209.1L527.4 1209.1L527.6 1209.0L527.9 1209.0L528.2 1209.0L528.5 1209.0L528.7 1209.0L529.0 1209.0L529.3 1208.9L529.6 1208.9L529.9 1208.9L530.2 1208.9L530.5 1208.9L530.8 1208.8L531.1 1208.8L531.4 1208.8L531.7 1208.8L532.0 1208.8L532.3 1208.8L532.7 1208.7L533.0 1208.7L533.3 1208.7L533.7 1208.7L534.0 1208.7L534.3 1208.6L534.7 1208.6L535.0 1208.6L535.4 1208.6L535.7 1208.6L536.1 1208.5L536.5 1208.5L536.9 1208.5L537.2 1208.5L537.6 1208.5L538.0 1208.4L538.4 1208.4L538.8 1208.4L539.2 1208.4L539.6 1208.4L540.0 1208.3L540.4 1208.3L540.8 1208.3L541.2 1208.3L541.7 1208.3L542.1 1208.2L542.5 1208.2L543.0 1208.2L543.4 1208.2L543.9 1208.1L544.3 1208.1L544.8 1208.1L545.3 1208.1L545.7 1208.0L546.2 1208.0L546.7 1208.0L547.2 1208.0L547.7 1208.0L548.2 1207.9L548.7 1207.9L549.2 1207.9L549.7 1207.9L550.2 1207.8L550.8 1207.8L551.3 1207.8L551.9 1207.8L552.4 1207.7L553.0 1207.7L553.5 1207.7L554.1 1207.7L554.7 1207.7L555.3 1207.6L555.8 1207.6L556.4 1207.6L557.0 1207.6L557.7 1207.5L558.3 1207.5L558.9 1207.5L559.5 1207.5L560.2 1207.4L560.8 1207.4L561.5 1207.4L562.1 1207.4L562.8 1207.4L563.5 1207.3L564.2 1207.3L564.8 1207.3L565.5 1207.3L566.3 1207.2L567.0 1207.2L567.7 1207.2L568.4 1207.2L569.2 1207.1L569.9 1207.1L570.7 1207.1L571.5 1207.1L572.2 1207.0L573.0 1207.0L573.8 1207.0L574.6 1207.0L575.4 1206.9L576.2 1206.9L577.1 1206.9L577.9 1206.9L578.8 1206.8L579.6 1206.8L580.5 1206.8L581.4 1206.7L582.3 1206.7L583.2 1206.7L584.1 1206.7L585.0 1206.6L586.0 1206.6L586.9 1206.6L587.9 1206.5L588.8 1206.5L589.8 1206.5L590.8 1206.4L591.8 1206.4L592.8 1206.4L593.8 1206.4L594.9 1206.3L595.9 1206.3L597.0 1206.3L598.0 1206.2L599.1 1206.2L600.2 1206.2L601.3 1206.1L602.5 1206.1L603.6 1206.1L604.7 1206.0L605.9 1206.0L607.1 1206.0L608.3 1205.9L609.5 1205.9L610.7 1205.9L611.9 1205.8L613.2 1205.8L614.4 1205.7L615.7 1205.7L617.0 1205.7L618.3 1205.6L619.6 1205.6L620.9 1205.5L622.3 1205.5L623.7 1205.5L625.0 1205.4L626.4 1205.4L627.8 1205.3L629.3 1205.3L630.7 1205.3L632.2 1205.2L633.7 1205.2L635.2 1205.1L636.7 1205.1L638.2 1205.1L639.8 1205.0L641.3 1205.0L642.9 1205.0L644.5 1204.9L646.1 1204.9L647.8 1204.8L649.4 1204.8L651.1 1204.8L652.8 1204.7L654.5 1204.7L656.3 1204.7L658.0 1204.6L659.8 1204.6L661.6 1204.5L663.4 1204.5L665.3 1204.5L667.1 1204.4L669.0 1204.4L670.9 1204.3L672.9 1204.3L674.8 1204.2L676.8 1204.2L678.8 1204.2L680.8 1204.1L682.8 1204.1L684.9 1204.0L687.0 1204.0L689.1 1203.9L691.3 1203.9L693.4 1203.8L695.6 1203.8L697.8 1203.7L700.1 1203.6L702.3 1203.6L704.6 1203.5L706.9 1203.5L709.3 1203.4L711.7 1203.3L714.1 1203.3L716.5 1203.2L718.9 1203.1L721.4 1203.1L723.9 1203.0L726.5 1202.9L729.1 1202.9L731.7 1202.8L734.3 1202.7L737.0 1202.7L739.6 1202.6L742.4 1202.5L745.1 1202.4L747.9 1202.4L750.7 1202.3L753.6 1202.2L756.5 1202.1L759.4 1202.0L762.3 1201.9L765.3 1201.8L768.4 1201.7L771.4 1201.6L774.5 1201.6L777.6 1201.4L780.8 1201.3L784.0 1201.2L787.2 1201.1L790.5 1201.0L793.8 1200.9L797.2 1200.8L800.6 1200.7L804.0 1200.5L807.5 1200.4L811.0 1200.3L814.5 1200.1L818.1 1200.0L821.7 1199.8L825.4 1199.7L829.1 1199.5L832.9 1199.3L836.7 1199.2L840.6 1199.0L844.4 1198.8L848.4 1198.6L852.4 1198.5L856.4 1198.3L860.5 1198.1L864.6 1197.8L868.8 1197.6L873.0 1197.4L877.3 1197.2L881.6 1196.9L885.9 1196.7L890.4 1196.4L894.8 1196.1L899.3 1195.8L903.9 1195.5L908.5 1195.2L913.2 1194.9L918.0 1194.6L922.8 1194.2L927.6 1193.8L932.5 1193.4L937.5 1193.0L942.5 1192.6L947.5 1192.2L952.7 1191.7L957.9 1191.2L963.1 1190.7L968.4 1190.2L973.8 1189.7L979.2 1189.2L984.7 1188.6L990.3 1188.0L995.9 1187.4L1001.6 1186.8L1007.4 1186.2L1013.2 1185.6L1019.1 1185.0L1025.1 1184.3L1031.1 1183.7L1037.2 1183.0L1043.4 1182.3L1049.6 1181.6L1055.9 1180.9L1062.3 1180.2L1068.8 1179.5L1075.3 1178.8L1081.9 1178.0L1088.6 1177.2L1095.3 1176.3L1102.2 1175.4L1109.1 1174.5L1116.1 1173.5L1123.2 1172.5L1130.4 1171.3L1137.6 1170.1L1144.9 1168.8L1152.4 1167.5L1159.9 1166.0L1167.5 1164.4L1175.1 1162.8L1182.9 1161.0L1190.8 1159.1L1198.7 1157.0L1206.8 1154.9L1214.9 1152.6L1223.1 1150.2L1231.4 1147.7L1239.8 1145.0L1248.4 1142.2L1257.0 1139.3L1265.7 1136.2L1274.5 1133.1L1283.4 1129.8L1292.4 1126.4L1301.6 1122.9L1310.8 1119.2L1320.1 1115.5L1329.6 1111.6L1339.1 1107.6L1348.8 1103.5L1358.6 1099.3L1368.5 1095.0L1378.5 1090.5L1388.6 1086.0L1398.9 1081.3L1409.2 1076.6L1419.7 1071.9L1430.3 1067.1L1441.0 1062.4L1451.8 1057.7L1462.8 1053.0L1473.9 1048.4L1485.1 1043.9L1496.5 1039.6L1508.0 1035.4L1519.6 1031.3L1531.4 1027.5L1543.3 1023.9L1555.3 1020.5L1567.5 1017.4L1579.8 1014.6L1592.2 1012.0L1604.8 1009.9L1617.6 1008.0L1630.5 1006.5L1643.5 1005.2L1656.7 1004.0L1670.0 1002.8L1683.5 1001.6L1697.2 1000.3L1711.0 998.8L1725.0 997.1L1739.1 995.0L1753.4 992.5L1767.9 989.5L1782.5 985.9L1797.3 981.7L1812.3 976.8L1827.4 971.0L1842.7 964.4L1858.2 956.8L1873.9 948.1L1889.8 938.3L1905.8 927.4L1922.0 915.4L1938.2 902.4L1954.4 888.6L1970.7 874.0L1986.8 858.8L2002.8 843.2L2018.6 827.1L2034.2 810.7L2049.5 794.2L2064.4 777.7L2078.9 761.2L2092.9 744.9L2106.5 729.0L2119.4 713.4L2131.8 698.4L2143.4 684.1L2154.4 670.5L2164.5 657.8L2173.9 646.1L2182.3 635.5L2189.9 625.9L2196.7 617.4L2202.8 609.8L2208.1 603.0L2212.8 597.2L2216.9 592.1L2220.3 587.7L2223.3 584.0L2225.7 581.0L2227.7 578.4L2229.3 576.4L2230.6 574.8L2231.5 573.7L2232.2 572.8L2232.7 572.2L2232.9 571.9L2233.1 571.7L2233.1 571.7L2233.1 571.7" fill="none" stroke="#0000ff" stroke-width="3.4" stroke-linejoin="round"/><path d="M484.8 1184.8 L524.2 1184.8 L504.5 1218.9ZM484.9 1191.9 L524.3 1191.9 L504.6 1226.0ZM484.9 1192.9 L524.3 1192.9 L504.6 1227.0ZM485.0 1193.8 L524.4 1193.8 L504.7 1227.9ZM485.1 1194.8 L524.5 1194.8 L504.8 1228.9ZM485.2 1195.7 L524.6 1195.7 L504.9 1229.9ZM485.4 1196.7 L524.8 1196.7 L505.1 1230.8ZM485.5 1197.5 L524.9 1197.5 L505.2 1231.6ZM485.8 1198.3 L525.2 1198.3 L505.5 1232.4ZM486.0 1198.8 L525.4 1198.8 L505.7 1233.0ZM486.4 1199.1 L525.8 1199.1 L506.1 1233.3ZM486.9 1199.3 L526.3 1199.3 L506.6 1233.4ZM487.4 1199.3 L526.8 1199.3 L507.1 1233.5ZM488.1 1199.3 L527.5 1199.3 L507.8 1233.4ZM489.0 1199.2 L528.4 1199.2 L508.7 1233.3ZM490.1 1199.1 L529.5 1199.1 L509.8 1233.2ZM491.6 1198.9 L531.0 1198.9 L511.3 1233.1ZM493.3 1198.8 L532.7 1198.8 L513.0 1232.9ZM495.6 1198.5 L535.0 1198.5 L515.3 1232.6ZM498.4 1198.3 L537.8 1198.3 L518.1 1232.4ZM502.0 1198.1 L541.4 1198.1 L521.7 1232.2ZM506.4 1197.8 L545.8 1197.8 L526.1 1231.9ZM512.1 1197.4 L551.5 1197.4 L531.8 1231.5ZM519.2 1197.0 L558.6 1197.0 L538.9 1231.1ZM528.1 1196.6 L567.5 1196.6 L547.8 1230.7ZM539.3 1196.1 L578.7 1196.1 L559.0 1230.2ZM553.5 1195.6 L592.9 1195.6 L573.2 1229.8ZM571.3 1195.1 L610.7 1195.1 L591.0 1229.2ZM593.8 1194.4 L633.2 1194.4 L613.5 1228.5ZM622.0 1193.6 L661.4 1193.6 L641.7 1227.7ZM657.5 1192.9 L697.0 1192.9 L677.2 1227.0ZM702.3 1191.7 L741.7 1191.7 L722.0 1225.8ZM758.7 1190.2 L798.1 1190.2 L778.4 1224.3ZM829.6 1187.5 L869.0 1187.5 L849.3 1221.6ZM918.9 1182.5 L958.3 1182.5 L938.6 1216.6ZM1031.4 1170.1 L1070.8 1170.1 L1051.1 1204.3ZM1172.9 1154.3 L1212.3 1154.3 L1192.6 1188.5ZM1351.1 1086.5 L1390.5 1086.5 L1370.8 1120.7ZM1575.4 974.4 L1614.8 974.4 L1595.1 1008.5ZM1857.9 1006.8 L1897.3 1006.8 L1877.6 1040.9ZM2213.4 560.3 L2252.8 560.3 L2233.1 594.4Z" fill="#fff" stroke="#0000ff" stroke-width="4.2" stroke-linejoin="miter"/></g>
<g clip-path="url(#cm)"><path d="M504.5 1203.3L504.5 1203.3L504.5 1203.3L504.5 1203.3L504.5 1203.3L504.5 1203.3L504.5 1203.4L504.5 1203.4L504.5 1203.4L504.5 1203.4L504.5 1203.4L504.5 1203.4L504.5 1203.4L504.5 1203.4L504.6 1203.4L504.6 1203.4L504.6 1203.4L504.6 1203.4L504.6 1203.5L504.6 1203.5L504.6 1203.5L504.6 1203.5L504.6 1203.5L504.6 1203.6L504.6 1203.6L504.6 1203.6L504.6 1203.7L504.6 1203.7L504.6 1203.7L504.6 1203.8L504.6 1203.8L504.6 1203.8L504.6 1203.9L504.6 1203.9L504.6 1204.0L504.6 1204.0L504.6 1204.0L504.6 1204.1L504.6 1204.1L504.6 1204.2L504.6 1204.2L504.6 1204.3L504.6 1204.3L504.6 1204.3L504.6 1204.4L504.6 1204.4L504.6 1204.5L504.6 1204.5L504.6 1204.5L504.6 1204.6L504.6 1204.6L504.6 1204.7L504.6 1204.7L504.6 1204.7L504.6 1204.8L504.6 1204.8L504.6 1204.8L504.6 1204.9L504.6 1204.9L504.6 1205.0L504.7 1205.0L504.7 1205.0L504.7 1205.1L504.7 1205.1L504.7 1205.2L504.7 1205.2L504.7 1205.2L504.7 1205.3L504.7 1205.3L504.7 1205.4L504.7 1205.4L504.7 1205.4L504.7 1205.5L504.7 1205.5L504.7 1205.5L504.7 1205.6L504.7 1205.6L504.7 1205.7L504.7 1205.7L504.7 1205.7L504.7 1205.8L504.7 1205.8L504.7 1205.9L504.7 1205.9L504.7 1205.9L504.7 1206.0L504.7 1206.0L504.8 1206.0L504.8 1206.1L504.8 1206.1L504.8 1206.2L504.8 1206.2L504.8 1206.2L504.8 1206.3L504.8 1206.3L504.8 1206.4L504.8 1206.4L504.8 1206.4L504.8 1206.5L504.8 1206.5L504.8 1206.5L504.8 1206.6L504.8 1206.6L504.8 1206.7L504.8 1206.7L504.8 1206.7L504.8 1206.8L504.8 1206.8L504.9 1206.9L504.9 1206.9L504.9 1206.9L504.9 1207.0L504.9 1207.0L504.9 1207.0L504.9 1207.1L504.9 1207.1L504.9 1207.2L504.9 1207.2L504.9 1207.2L504.9 1207.3L504.9 1207.3L504.9 1207.4L504.9 1207.4L504.9 1207.4L505.0 1207.5L505.0 1207.5L505.0 1207.5L505.0 1207.6L505.0 1207.6L505.0 1207.7L505.0 1207.7L505.0 1207.7L505.0 1207.8L505.0 1207.8L505.0 1207.9L505.0 1207.9L505.0 1207.9L505.0 1208.0L505.1 1208.0L505.1 1208.0L505.1 1208.1L505.1 1208.1L505.1 1208.1L505.1 1208.2L505.1 1208.2L505.1 1208.3L505.1 1208.3L505.1 1208.3L505.1 1208.4L505.1 1208.4L505.2 1208.4L505.2 1208.5L505.2 1208.5L505.2 1208.5L505.2 1208.6L505.2 1208.6L505.2 1208.6L505.2 1208.7L505.2 1208.7L505.2 1208.7L505.2 1208.8L505.3 1208.8L505.3 1208.8L505.3 1208.8L505.3 1208.9L505.3 1208.9L505.3 1208.9L505.3 1209.0L505.3 1209.0L505.3 1209.0L505.4 1209.0L505.4 1209.1L505.4 1209.1L505.4 1209.1L505.4 1209.2L505.4 1209.2L505.4 1209.2L505.4 1209.2L505.5 1209.3L505.5 1209.3L505.5 1209.3L505.5 1209.3L505.5 1209.4L505.5 1209.4L505.5 1209.4L505.5 1209.4L505.6 1209.5L505.6 1209.5L505.6 1209.5L505.6 1209.5L505.6 1209.6L505.6 1209.6L505.6 1209.6L505.7 1209.6L505.7 1209.7L505.7 1209.7L505.7 1209.7L505.7 1209.7L505.7 1209.8L505.7 1209.8L505.8 1209.8L505.8 1209.8L505.8 1209.8L505.8 1209.9L505.8 1209.9L505.8 1209.9L505.9 1209.9L505.9 1209.9L505.9 1210.0L505.9 1210.0L505.9 1210.0L505.9 1210.0L506.0 1210.0L506.0 1210.1L506.0 1210.1L506.0 1210.1L506.0 1210.1L506.1 1210.1L506.1 1210.1L506.1 1210.2L506.1 1210.2L506.1 1210.2L506.2 1210.2L506.2 1210.2L506.2 1210.2L506.2 1210.2L506.2 1210.3L506.3 1210.3L506.3 1210.3L506.3 1210.3L506.3 1210.3L506.4 1210.3L506.4 1210.3L506.4 1210.3L506.4 1210.3L506.4 1210.3L506.5 1210.3L506.5 1210.4L506.5 1210.4L506.5 1210.4L506.6 1210.4L506.6 1210.4L506.6 1210.4L506.6 1210.4L506.7 1210.4L506.7 1210.4L506.7 1210.4L506.8 1210.4L506.8 1210.4L506.8 1210.4L506.8 1210.4L506.9 1210.4L506.9 1210.4L506.9 1210.4L507.0 1210.4L507.0 1210.4L507.0 1210.4L507.0 1210.5L507.1 1210.5L507.1 1210.5L507.1 1210.5L507.2 1210.5L507.2 1210.5L507.2 1210.5L507.3 1210.5L507.3 1210.5L507.3 1210.5L507.4 1210.5L507.4 1210.5L507.4 1210.5L507.5 1210.5L507.5 1210.4L507.5 1210.4L507.6 1210.4L507.6 1210.4L507.7 1210.4L507.7 1210.4L507.7 1210.4L507.8 1210.4L507.8 1210.4L507.9 1210.4L507.9 1210.4L507.9 1210.4L508.0 1210.4L508.0 1210.4L508.1 1210.4L508.1 1210.4L508.1 1210.4L508.2 1210.4L508.2 1210.4L508.3 1210.4L508.3 1210.4L508.4 1210.4L508.4 1210.4L508.5 1210.3L508.5 1210.3L508.6 1210.3L508.6 1210.3L508.7 1210.3L508.7 1210.3L508.8 1210.3L508.8 1210.3L508.9 1210.3L508.9 1210.3L509.0 1210.3L509.0 1210.3L509.1 1210.2L509.1 1210.2L509.2 1210.2L509.2 1210.2L509.3 1210.2L509.3 1210.2L509.4 1210.2L509.5 1210.2L509.5 1210.2L509.6 1210.1L509.6 1210.1L509.7 1210.1L509.8 1210.1L509.8 1210.1L509.9 1210.1L510.0 1210.1L510.0 1210.1L510.1 1210.0L510.2 1210.0L510.2 1210.0L510.3 1210.0L510.4 1210.0L510.4 1210.0L510.5 1210.0L510.6 1210.0L510.6 1209.9L510.7 1209.9L510.8 1209.9L510.9 1209.9L510.9 1209.9L511.0 1209.9L511.1 1209.9L511.2 1209.8L511.2 1209.8L511.3 1209.8L511.4 1209.8L511.5 1209.8L511.6 1209.8L511.6 1209.8L511.7 1209.8L511.8 1209.7L511.9 1209.7L512.0 1209.7L512.1 1209.7L512.2 1209.7L512.3 1209.7L512.3 1209.7L512.4 1209.6L512.5 1209.6L512.6 1209.6L512.7 1209.6L512.8 1209.6L512.9 1209.6L513.0 1209.6L513.1 1209.5L513.2 1209.5L513.3 1209.5L513.4 1209.5L513.5 1209.5L513.6 1209.5L513.7 1209.5L513.8 1209.4L514.0 1209.4L514.1 1209.4L514.2 1209.4L514.3 1209.4L514.4 1209.4L514.5 1209.3L514.6 1209.3L514.8 1209.3L514.9 1209.3L515.0 1209.3L515.1 1209.3L515.3 1209.3L515.4 1209.2L515.5 1209.2L515.6 1209.2L515.8 1209.2L515.9 1209.2L516.0 1209.2L516.2 1209.1L516.3 1209.1L516.4 1209.1L516.6 1209.1L516.7 1209.1L516.9 1209.1L517.0 1209.0L517.2 1209.0L517.3 1209.0L517.5 1209.0L517.6 1209.0L517.8 1209.0L517.9 1208.9L518.1 1208.9L518.2 1208.9L518.4 1208.9L518.6 1208.9L518.7 1208.9L518.9 1208.8L519.0 1208.8L519.2 1208.8L519.4 1208.8L519.6 1208.8L519.7 1208.8L519.9 1208.7L520.1 1208.7L520.3 1208.7L520.5 1208.7L520.7 1208.7L520.8 1208.7L521.0 1208.6L521.2 1208.6L521.4 1208.6L521.6 1208.6L521.8 1208.6L522.0 1208.6L522.2 1208.5L522.4 1208.5L522.6 1208.5L522.8 1208.5L523.1 1208.5L523.3 1208.5L523.5 1208.4L523.7 1208.4L523.9 1208.4L524.2 1208.4L524.4 1208.4L524.6 1208.4L524.9 1208.3L525.1 1208.3L525.3 1208.3L525.6 1208.3L525.8 1208.3L526.1 1208.3L526.3 1208.2L526.6 1208.2L526.8 1208.2L527.1 1208.2L527.4 1208.2L527.6 1208.2L527.9 1208.1L528.2 1208.1L528.5 1208.1L528.7 1208.1L529.0 1208.1L529.3 1208.1L529.6 1208.1L529.9 1208.0L530.2 1208.0L530.5 1208.0L530.8 1208.0L531.1 1208.0L531.4 1207.9L531.7 1207.9L532.0 1207.9L532.3 1207.9L532.7 1207.9L533.0 1207.9L533.3 1207.8L533.7 1207.8L534.0 1207.8L534.3 1207.8L534.7 1207.8L535.0 1207.7L535.4 1207.7L535.7 1207.7L536.1 1207.7L536.5 1207.7L536.9 1207.6L537.2 1207.6L537.6 1207.6L538.0 1207.6L538.4 1207.5L538.8 1207.5L539.2 1207.5L539.6 1207.5L540.0 1207.5L540.4 1207.4L540.8 1207.4L541.2 1207.4L541.7 1207.4L542.1 1207.3L542.5 1207.3L543.0 1207.3L543.4 1207.3L543.9 1207.3L544.3 1207.2L544.8 1207.2L545.3 1207.2L545.7 1207.2L546.2 1207.1L546.7 1207.1L547.2 1207.1L547.7 1207.1L548.2 1207.0L548.7 1207.0L549.2 1207.0L549.7 1206.9L550.2 1206.9L550.8 1206.9L551.3 1206.9L551.9 1206.8L552.4 1206.8L553.0 1206.8L553.5 1206.8L554.1 1206.7L554.7 1206.7L555.3 1206.7L555.8 1206.6L556.4 1206.6L557.0 1206.6L557.7 1206.6L558.3 1206.5L558.9 1206.5L559.5 1206.5L560.2 1206.4L560.8 1206.4L561.5 1206.4L562.1 1206.4L562.8 1206.3L563.5 1206.3L564.2 1206.3L564.8 1206.2L565.5 1206.2L566.3 1206.2L567.0 1206.2L567.7 1206.1L568.4 1206.1L569.2 1206.1L569.9 1206.0L570.7 1206.0L571.5 1206.0L572.2 1206.0L573.0 1205.9L573.8 1205.9L574.6 1205.9L575.4 1205.9L576.2 1205.9L577.1 1205.8L577.9 1205.8L578.8 1205.8L579.6 1205.8L580.5 1205.7L581.4 1205.7L582.3 1205.7L583.2 1205.7L584.1 1205.7L585.0 1205.6L586.0 1205.6L586.9 1205.6L587.9 1205.6L588.8 1205.6L589.8 1205.5L590.8 1205.5L591.8 1205.5L592.8 1205.5L593.8 1205.5L594.9 1205.4L595.9 1205.4L597.0 1205.4L598.0 1205.4L599.1 1205.4L600.2 1205.3L601.3 1205.3L602.5 1205.3L603.6 1205.3L604.7 1205.2L605.9 1205.2L607.1 1205.2L608.3 1205.2L609.5 1205.1L610.7 1205.1L611.9 1205.1L613.2 1205.0L614.4 1205.0L615.7 1205.0L617.0 1204.9L618.3 1204.9L619.6 1204.9L620.9 1204.8L622.3 1204.8L623.7 1204.7L625.0 1204.7L626.4 1204.6L627.8 1204.6L629.3 1204.6L630.7 1204.5L632.2 1204.5L633.7 1204.4L635.2 1204.4L636.7 1204.3L638.2 1204.3L639.8 1204.2L641.3 1204.2L642.9 1204.1L644.5 1204.1L646.1 1204.0L647.8 1204.0L649.4 1203.9L651.1 1203.9L652.8 1203.8L654.5 1203.8L656.3 1203.7L658.0 1203.7L659.8 1203.6L661.6 1203.6L663.4 1203.5L665.3 1203.5L667.1 1203.4L669.0 1203.4L670.9 1203.3L672.9 1203.3L674.8 1203.2L676.8 1203.2L678.8 1203.2L680.8 1203.1L682.8 1203.1L684.9 1203.0L687.0 1203.0L689.1 1203.0L691.3 1202.9L693.4 1202.9L695.6 1202.9L697.8 1202.8L700.1 1202.8L702.3 1202.8L704.6 1202.7L706.9 1202.7L709.3 1202.6L711.7 1202.6L714.1 1202.5L716.5 1202.5L718.9 1202.4L721.4 1202.4L723.9 1202.3L726.5 1202.2L729.1 1202.2L731.7 1202.1L734.3 1202.0L737.0 1201.9L739.6 1201.8L742.4 1201.7L745.1 1201.7L747.9 1201.6L750.7 1201.5L753.6 1201.3L756.5 1201.2L759.4 1201.1L762.3 1201.0L765.3 1200.9L768.4 1200.8L771.4 1200.7L774.5 1200.6L777.6 1200.4L780.8 1200.3L784.0 1200.2L787.2 1200.1L790.5 1200.0L793.8 1199.8L797.2 1199.7L800.6 1199.6L804.0 1199.4L807.5 1199.3L811.0 1199.2L814.5 1199.0L818.1 1198.9L821.7 1198.7L825.4 1198.6L829.1 1198.4L832.9 1198.3L836.7 1198.1L840.6 1197.9L844.4 1197.8L848.4 1197.6L852.4 1197.4L856.4 1197.2L860.5 1197.0L864.6 1196.8L868.8 1196.6L873.0 1196.4L877.3 1196.1L881.6 1195.9L885.9 1195.6L890.4 1195.4L894.8 1195.1L899.3 1194.9L903.9 1194.6L908.5 1194.3L913.2 1194.0L918.0 1193.7L922.8 1193.4L927.6 1193.0L932.5 1192.7L937.5 1192.3L942.5 1192.0L947.5 1191.6L952.7 1191.2L957.9 1190.8L963.1 1190.4L968.4 1190.0L973.8 1189.6L979.2 1189.2L984.7 1188.7L990.3 1188.3L995.9 1187.8L1001.6 1187.4L1007.4 1187.0L1013.2 1186.5L1019.1 1186.1L1025.1 1185.6L1031.1 1185.2L1037.2 1184.7L1043.4 1184.3L1049.6 1183.8L1055.9 1183.4L1062.3 1182.9L1068.8 1182.5L1075.3 1182.1L1081.9 1181.6L1088.6 1181.2L1095.3 1180.7L1102.2 1180.2L1109.1 1179.7L1116.1 1179.2L1123.2 1178.6L1130.4 1178.0L1137.6 1177.4L1144.9 1176.7L1152.4 1176.0L1159.9 1175.2L1167.5 1174.4L1175.1 1173.5L1182.9 1172.6L1190.8 1171.5L1198.7 1170.5L1206.8 1169.3L1214.9 1168.1L1223.1 1166.7L1231.4 1165.3L1239.8 1163.7L1248.4 1161.9L1257.0 1160.0L1265.7 1157.9L1274.5 1155.7L1283.4 1153.2L1292.4 1150.5L1301.6 1147.6L1310.8 1144.4L1320.1 1141.0L1329.6 1137.3L1339.1 1133.3L1348.8 1129.0L1358.6 1124.4L1368.5 1119.4L1378.5 1114.1L1388.6 1108.4L1398.9 1102.4L1409.2 1096.2L1419.7 1089.7L1430.3 1083.0L1441.0 1076.1L1451.8 1069.2L1462.8 1062.2L1473.9 1055.1L1485.1 1048.1L1496.5 1041.2L1508.0 1034.3L1519.6 1027.6L1531.4 1021.1L1543.3 1014.9L1555.3 1008.9L1567.5 1003.2L1579.8 997.9L1592.2 993.0L1604.8 988.6L1617.6 984.6L1630.5 981.0L1643.5 977.7L1656.7 974.6L1670.0 971.7L1683.5 968.7L1697.2 965.6L1711.0 962.4L1725.0 958.9L1739.1 955.0L1753.4 950.7L1767.9 945.7L1782.5 940.1L1797.3 933.8L1812.3 926.6L1827.4 918.4L1842.7 909.2L1858.2 898.9L1873.9 887.3L1889.8 874.3L1905.8 860.0L1922.0 844.4L1938.2 827.6L1954.4 809.8L1970.7 791.2L1986.8 771.8L2002.8 751.8L2018.6 731.4L2034.2 710.7L2049.5 689.8L2064.4 668.9L2078.9 648.2L2092.9 627.7L2106.5 607.6L2119.4 588.0L2131.8 569.2L2143.4 551.2L2154.4 534.1L2164.5 518.2L2173.9 503.5L2182.3 490.2L2189.9 478.2L2196.7 467.5L2202.8 458.0L2208.1 449.6L2212.8 442.2L2216.9 435.9L2220.3 430.4L2223.3 425.8L2225.7 421.9L2227.7 418.7L2229.3 416.2L2230.6 414.2L2231.5 412.8L2232.2 411.7L2232.7 411.0L2232.9 410.5L2233.1 410.3L2233.1 410.2L2233.1 410.2" fill="none" stroke="#ff0080" stroke-width="3.2" stroke-linejoin="round"/><circle cx="504.5" cy="1203.3" r="17.2" fill="#fff" stroke="#ff0080" stroke-width="3.6"/><circle cx="504.6" cy="1204.2" r="17.2" fill="#fff" stroke="#ff0080" stroke-width="3.6"/><circle cx="504.6" cy="1205.0" r="17.2" fill="#fff" stroke="#ff0080" stroke-width="3.6"/><circle cx="504.7" cy="1205.8" r="17.2" fill="#fff" stroke="#ff0080" stroke-width="3.6"/><circle cx="504.8" cy="1206.5" r="17.2" fill="#fff" stroke="#ff0080" stroke-width="3.6"/><circle cx="504.9" cy="1207.3" r="17.2" fill="#fff" stroke="#ff0080" stroke-width="3.6"/><circle cx="505.1" cy="1208.1" r="17.2" fill="#fff" stroke="#ff0080" stroke-width="3.6"/><circle cx="505.2" cy="1208.8" r="17.2" fill="#fff" stroke="#ff0080" stroke-width="3.6"/><circle cx="505.5" cy="1209.3" r="17.2" fill="#fff" stroke="#ff0080" stroke-width="3.6"/><circle cx="505.7" cy="1209.8" r="17.2" fill="#fff" stroke="#ff0080" stroke-width="3.6"/><circle cx="506.1" cy="1210.2" r="17.2" fill="#fff" stroke="#ff0080" stroke-width="3.6"/><circle cx="506.6" cy="1210.4" r="17.2" fill="#fff" stroke="#ff0080" stroke-width="3.6"/><circle cx="507.1" cy="1210.5" r="17.2" fill="#fff" stroke="#ff0080" stroke-width="3.6"/><circle cx="507.8" cy="1210.4" r="17.2" fill="#fff" stroke="#ff0080" stroke-width="3.6"/><circle cx="508.7" cy="1210.3" r="17.2" fill="#fff" stroke="#ff0080" stroke-width="3.6"/><circle cx="509.8" cy="1210.1" r="17.2" fill="#fff" stroke="#ff0080" stroke-width="3.6"/><circle cx="511.3" cy="1209.8" r="17.2" fill="#fff" stroke="#ff0080" stroke-width="3.6"/><circle cx="513.0" cy="1209.5" r="17.2" fill="#fff" stroke="#ff0080" stroke-width="3.6"/><circle cx="515.3" cy="1209.2" r="17.2" fill="#fff" stroke="#ff0080" stroke-width="3.6"/><circle cx="518.1" cy="1208.9" r="17.2" fill="#fff" stroke="#ff0080" stroke-width="3.6"/><circle cx="521.7" cy="1208.6" r="17.2" fill="#fff" stroke="#ff0080" stroke-width="3.6"/><circle cx="526.1" cy="1208.2" r="17.2" fill="#fff" stroke="#ff0080" stroke-width="3.6"/><circle cx="531.8" cy="1207.9" r="17.2" fill="#fff" stroke="#ff0080" stroke-width="3.6"/><circle cx="538.9" cy="1207.5" r="17.2" fill="#fff" stroke="#ff0080" stroke-width="3.6"/><circle cx="547.8" cy="1207.0" r="17.2" fill="#fff" stroke="#ff0080" stroke-width="3.6"/><circle cx="559.0" cy="1206.5" r="17.2" fill="#fff" stroke="#ff0080" stroke-width="3.6"/><circle cx="573.2" cy="1205.9" r="17.2" fill="#fff" stroke="#ff0080" stroke-width="3.6"/><circle cx="591.0" cy="1205.5" r="17.2" fill="#fff" stroke="#ff0080" stroke-width="3.6"/><circle cx="613.5" cy="1205.1" r="17.2" fill="#fff" stroke="#ff0080" stroke-width="3.6"/><circle cx="641.7" cy="1204.2" r="17.2" fill="#fff" stroke="#ff0080" stroke-width="3.6"/><circle cx="677.2" cy="1203.0" r="17.2" fill="#fff" stroke="#ff0080" stroke-width="3.6"/><circle cx="722.0" cy="1202.6" r="17.2" fill="#fff" stroke="#ff0080" stroke-width="3.6"/><circle cx="778.4" cy="1200.4" r="17.2" fill="#fff" stroke="#ff0080" stroke-width="3.6"/><circle cx="849.3" cy="1197.8" r="17.2" fill="#fff" stroke="#ff0080" stroke-width="3.6"/><circle cx="938.6" cy="1192.8" r="17.2" fill="#fff" stroke="#ff0080" stroke-width="3.6"/><circle cx="1051.1" cy="1183.0" r="17.2" fill="#fff" stroke="#ff0080" stroke-width="3.6"/><circle cx="1192.6" cy="1175.3" r="17.2" fill="#fff" stroke="#ff0080" stroke-width="3.6"/><circle cx="1370.8" cy="1138.4" r="17.2" fill="#fff" stroke="#ff0080" stroke-width="3.6"/><circle cx="1595.1" cy="955.7" r="17.2" fill="#fff" stroke="#ff0080" stroke-width="3.6"/><circle cx="1877.6" cy="970.0" r="17.2" fill="#fff" stroke="#ff0080" stroke-width="3.6"/><circle cx="2233.1" cy="410.2" r="17.2" fill="#fff" stroke="#ff0080" stroke-width="3.6"/></g>
<rect x="422.1" y="1063.1" width="656.3" height="234.4" fill="none" stroke="#000" stroke-width="3.8" stroke-dasharray="10.5 12" stroke-linecap="round"/>
<path d="M711.5 1035.3L755.5 935" fill="none" stroke="#000" stroke-width="3.2" stroke-linecap="round"/>
<path d="M772.2 899.1L746.3 930.9L765.9 939.4Z" fill="#000" stroke="#000" stroke-width="1" stroke-linejoin="round"/>
<rect x="331.5" y="58.5" width="2074.5" height="1541.0" fill="none" stroke="#000" stroke-width="7.5"/>
<path d="M331.5 1503.2H346.5M331.5 1406.9H361.3M331.5 1310.6H346.5M331.5 1214.2H361.3M331.5 1117.9H346.5M331.5 1021.6H361.3M331.5 925.3H346.5M331.5 829.0H361.3M331.5 732.7H346.5M331.5 636.4H361.3M331.5 540.1H346.5M331.5 443.8H361.3M331.5 347.4H346.5M331.5 251.1H361.3M331.5 154.8H346.5M504.4 1599.5V1571.0M677.2 1599.5V1584.8M850.1 1599.5V1571.0M1023.0 1599.5V1584.8M1195.9 1599.5V1571.0M1368.8 1599.5V1584.8M1541.6 1599.5V1571.0M1714.5 1599.5V1584.8M1887.4 1599.5V1571.0M2060.2 1599.5V1584.8M2233.1 1599.5V1571.0" fill="none" stroke="#000" stroke-width="7" stroke-linecap="round"/>
<g font-size="96">
<text x="299" y="1627.5" text-anchor="end">-100</text>
<text x="299" y="1434.9" text-anchor="end">-50</text>
<text x="299" y="1242.2" text-anchor="end">0</text>
<text x="299" y="1049.6" text-anchor="end">50</text>
<text x="299" y="857.0" text-anchor="end">100</text>
<text x="299" y="664.4" text-anchor="end">150</text>
<text x="299" y="471.8" text-anchor="end">200</text>
<text x="299" y="279.1" text-anchor="end">250</text>
<text x="299" y="86.5" text-anchor="end">300</text>
<text x="504.4" y="1705.5" text-anchor="middle">0</text>
<text x="850.1" y="1705.5" text-anchor="middle">20</text>
<text x="1195.9" y="1705.5" text-anchor="middle">40</text>
<text x="1541.6" y="1705.5" text-anchor="middle">60</text>
<text x="1887.4" y="1705.5" text-anchor="middle">80</text>
<text x="2233.1" y="1705.5" text-anchor="middle">100</text>
<text x="1368.7" y="1859" text-anchor="middle" font-size="93.5"><tspan class="i">ω</tspan> (rad·s<tspan font-size="52" dy="-46">-1</tspan><tspan dy="46">)</tspan></text>
<text transform="translate(90.5 827.5) rotate(-90)" text-anchor="middle" font-size="92"><tspan class="i">G</tspan> (Pa)</text>
</g>
<path d="M720.0 162.0H884.5" stroke="#0000ff" stroke-width="4.0" stroke-linecap="round" fill="none"/><path d="M781.5 150.6 L820.9 150.6 L801.2 184.7Z" fill="#0000ff" stroke="#0000ff" stroke-width="4.2"/><text x="903.7" y="186.3" font-size="80"><tspan class="i">G'</tspan>(MKGM)</text>
<path d="M720.0 281.0H884.5" stroke="#0000ff" stroke-width="3.0" stroke-linecap="round" fill="none"/><path d="M781.5 269.6 L820.9 269.6 L801.2 303.7Z" fill="#fff" stroke="#0000ff" stroke-width="4.2"/><text x="905.2" y="305.6" font-size="80"><tspan class="i">G''</tspan>(MKGM)</text>
<path d="M1351.0 162.0H1515.5" stroke="#ff0080" stroke-width="4.0" stroke-linecap="round" fill="none"/><circle cx="1432.7" cy="162.0" r="17.2" fill="#ff0080" stroke="#ff0080" stroke-width="3.6"/><text x="1537.5" y="186.3" font-size="80"><tspan class="i">G'</tspan>(KGM)</text>
<path d="M1355.0 281.0H1519.5" stroke="#ff0080" stroke-width="3.0" stroke-linecap="round" fill="none"/><circle cx="1436.5" cy="281.0" r="17.2" fill="#fff" stroke="#ff0080" stroke-width="3.6"/><text x="1541.5" y="305.6" font-size="80"><tspan class="i">G''</tspan>(KGM)</text>
<rect x="599.6" y="463.7" width="518.9" height="384.5" fill="#fff" stroke="none"/>
<g clip-path="url(#ci)"><path d="M599.8 658.4L599.8 658.4L599.8 658.4L599.8 658.4L599.8 658.4L599.8 658.4L599.8 658.4L599.8 658.4L599.8 658.3L599.8 658.3L599.8 658.2L599.8 658.1L599.8 658.0L599.8 657.9L599.8 657.7L599.8 657.6L599.8 657.4L599.8 657.2L599.8 657.0L599.8 656.7L599.8 656.4L599.8 656.1L599.8 655.7L599.8 655.4L599.8 654.9L599.8 654.5L599.8 654.1L599.8 653.6L599.8 653.1L599.8 652.6L599.8 652.1L599.8 651.5L599.8 650.9L599.8 650.4L599.8 649.8L599.8 649.2L599.8 648.6L599.8 648.0L599.8 647.4L599.8 646.8L599.8 646.2L599.8 645.6L599.8 644.9L599.8 644.3L599.8 643.7L599.8 643.1L599.8 642.5L599.8 641.9L599.8 641.3L599.8 640.7L599.8 640.1L599.8 639.5L599.9 638.9L599.9 638.3L599.9 637.7L599.9 637.1L599.9 636.5L599.9 635.9L599.9 635.3L599.9 634.8L599.9 634.2L599.9 633.6L599.9 633.0L599.9 632.5L599.9 631.9L599.9 631.4L599.9 630.8L599.9 630.3L599.9 629.8L599.9 629.2L599.9 628.7L599.9 628.2L599.9 627.7L599.9 627.1L599.9 626.6L599.9 626.1L599.9 625.6L599.9 625.1L599.9 624.6L599.9 624.1L599.9 623.7L600.0 623.2L600.0 622.7L600.0 622.2L600.0 621.8L600.0 621.3L600.0 620.8L600.0 620.4L600.0 619.9L600.0 619.5L600.0 619.0L600.0 618.6L600.0 618.1L600.0 617.7L600.0 617.2L600.0 616.8L600.0 616.3L600.0 615.9L600.0 615.5L600.0 615.0L600.0 614.6L600.0 614.1L600.0 613.7L600.1 613.3L600.1 612.8L600.1 612.4L600.1 612.0L600.1 611.5L600.1 611.1L600.1 610.7L600.1 610.2L600.1 609.8L600.1 609.4L600.1 609.0L600.1 608.5L600.1 608.1L600.1 607.7L600.1 607.3L600.1 606.9L600.1 606.5L600.2 606.1L600.2 605.7L600.2 605.3L600.2 604.9L600.2 604.6L600.2 604.2L600.2 603.8L600.2 603.5L600.2 603.1L600.2 602.7L600.2 602.4L600.2 602.0L600.2 601.7L600.2 601.3L600.2 601.0L600.3 600.7L600.3 600.4L600.3 600.0L600.3 599.7L600.3 599.4L600.3 599.1L600.3 598.8L600.3 598.5L600.3 598.2L600.3 597.9L600.3 597.6L600.3 597.3L600.4 597.0L600.4 596.8L600.4 596.5L600.4 596.2L600.4 596.0L600.4 595.7L600.4 595.4L600.4 595.2L600.4 594.9L600.4 594.7L600.4 594.4L600.5 594.2L600.5 593.9L600.5 593.7L600.5 593.4L600.5 593.2L600.5 593.0L600.5 592.7L600.5 592.5L600.5 592.3L600.5 592.0L600.6 591.8L600.6 591.6L600.6 591.4L600.6 591.2L600.6 590.9L600.6 590.7L600.6 590.5L600.6 590.3L600.7 590.1L600.7 589.9L600.7 589.7L600.7 589.5L600.7 589.3L600.7 589.1L600.7 588.9L600.7 588.7L600.8 588.5L600.8 588.3L600.8 588.1L600.8 588.0L600.8 587.8L600.8 587.6L600.8 587.4L600.8 587.3L600.9 587.1L600.9 586.9L600.9 586.7L600.9 586.6L600.9 586.4L600.9 586.3L601.0 586.1L601.0 585.9L601.0 585.8L601.0 585.6L601.0 585.5L601.0 585.3L601.1 585.2L601.1 585.0L601.1 584.9L601.1 584.8L601.1 584.6L601.1 584.5L601.2 584.4L601.2 584.3L601.2 584.1L601.2 584.0L601.2 583.9L601.2 583.8L601.3 583.7L601.3 583.6L601.3 583.5L601.3 583.4L601.3 583.3L601.4 583.2L601.4 583.1L601.4 583.1L601.4 583.0L601.4 582.9L601.5 582.8L601.5 582.8L601.5 582.7L601.5 582.7L601.6 582.6L601.6 582.6L601.6 582.5L601.6 582.4L601.7 582.4L601.7 582.4L601.7 582.3L601.7 582.3L601.7 582.2L601.8 582.2L601.8 582.1L601.8 582.1L601.8 582.0L601.9 582.0L601.9 582.0L601.9 581.9L602.0 581.9L602.0 581.8L602.0 581.8L602.0 581.7L602.1 581.7L602.1 581.7L602.1 581.6L602.2 581.6L602.2 581.5L602.2 581.5L602.2 581.5L602.3 581.4L602.3 581.4L602.3 581.3L602.4 581.3L602.4 581.3L602.4 581.2L602.5 581.2L602.5 581.2L602.5 581.1L602.6 581.1L602.6 581.1L602.6 581.1L602.7 581.0L602.7 581.0L602.7 581.0L602.8 580.9L602.8 580.9L602.8 580.9L602.9 580.9L602.9 580.8L603.0 580.8L603.0 580.8L603.0 580.8L603.1 580.7L603.1 580.7L603.2 580.7L603.2 580.6L603.2 580.6L603.3 580.6L603.3 580.6L603.4 580.5L603.4 580.5L603.5 580.5L603.5 580.5L603.6 580.4L603.6 580.4L603.6 580.4L603.7 580.3L603.7 580.3L603.8 580.3L603.8 580.3L603.9 580.2L603.9 580.2L604.0 580.2L604.0 580.1L604.1 580.1L604.1 580.1L604.2 580.0L604.2 580.0L604.3 580.0L604.4 579.9L604.4 579.9L604.5 579.9L604.5 579.8L604.6 579.8L604.6 579.8L604.7 579.7L604.7 579.7L604.8 579.7L604.9 579.6L604.9 579.6L605.0 579.6L605.1 579.5L605.1 579.5L605.2 579.5L605.2 579.4L605.3 579.4L605.4 579.4L605.4 579.3L605.5 579.3L605.6 579.2L605.7 579.2L605.7 579.2L605.8 579.1L605.9 579.1L605.9 579.1L606.0 579.0L606.1 579.0L606.2 578.9L606.2 578.9L606.3 578.9L606.4 578.8L606.5 578.8L606.5 578.7L606.6 578.7L606.7 578.6L606.8 578.6L606.9 578.6L607.0 578.5L607.0 578.5L607.1 578.4L607.2 578.4L607.3 578.3L607.4 578.3L607.5 578.2L607.6 578.2L607.7 578.1L607.8 578.0L607.9 578.0L608.0 577.9L608.0 577.9L608.1 577.8L608.2 577.8L608.3 577.7L608.4 577.7L608.5 577.6L608.7 577.5L608.8 577.5L608.9 577.4L609.0 577.4L609.1 577.3L609.2 577.2L609.3 577.2L609.4 577.1L609.5 577.1L609.6 577.0L609.8 576.9L609.9 576.9L610.0 576.8L610.1 576.7L610.2 576.7L610.4 576.6L610.5 576.5L610.6 576.5L610.7 576.4L610.9 576.3L611.0 576.2L611.1 576.2L611.3 576.1L611.4 576.0L611.5 575.9L611.7 575.9L611.8 575.8L612.0 575.7L612.1 575.6L612.2 575.6L612.4 575.5L612.5 575.4L612.7 575.3L612.8 575.2L613.0 575.2L613.1 575.1L613.3 575.0L613.5 574.9L613.6 574.8L613.8 574.7L613.9 574.7L614.1 574.6L614.3 574.5L614.5 574.4L614.6 574.3L614.8 574.2L615.0 574.1L615.2 574.0L615.3 573.9L615.5 573.9L615.7 573.8L615.9 573.7L616.1 573.6L616.3 573.5L616.5 573.4L616.7 573.3L616.9 573.2L617.1 573.1L617.3 573.0L617.5 572.8L617.7 572.7L617.9 572.6L618.1 572.5L618.3 572.4L618.5 572.3L618.7 572.2L619.0 572.0L619.2 571.9L619.4 571.8L619.6 571.7L619.9 571.5L620.1 571.4L620.3 571.3L620.6 571.1L620.8 571.0L621.1 570.8L621.3 570.7L621.6 570.5L621.8 570.4L622.1 570.2L622.3 570.1L622.6 569.9L622.9 569.8L623.1 569.6L623.4 569.4L623.7 569.3L624.0 569.1L624.2 568.9L624.5 568.8L624.8 568.6L625.1 568.4L625.4 568.3L625.7 568.1L626.0 567.9L626.3 567.7L626.6 567.6L626.9 567.4L627.3 567.2L627.6 567.0L627.9 566.9L628.2 566.7L628.6 566.5L628.9 566.3L629.2 566.2L629.6 566.0L629.9 565.8L630.3 565.6L630.6 565.5L631.0 565.3L631.4 565.1L631.7 565.0L632.1 564.8L632.5 564.6L632.9 564.5L633.2 564.3L633.6 564.1L634.0 564.0L634.4 563.8L634.8 563.6L635.2 563.5L635.6 563.3L636.1 563.2L636.5 563.0L636.9 562.8L637.3 562.7L637.8 562.5L638.2 562.4L638.7 562.2L639.1 562.0L639.6 561.9L640.0 561.7L640.5 561.6L641.0 561.4L641.5 561.2L641.9 561.1L642.4 560.9L642.9 560.7L643.4 560.5L643.9 560.4L644.5 560.2L645.0 560.0L645.5 559.8L646.0 559.6L646.6 559.5L647.1 559.3L647.7 559.1L648.2 558.9L648.8 558.7L649.4 558.5L649.9 558.3L650.5 558.1L651.1 558.0L651.7 557.8L652.3 557.6L652.9 557.4L653.5 557.2L654.2 557.0L654.8 556.9L655.4 556.7L656.1 556.5L656.7 556.3L657.4 556.2L658.1 556.0L658.7 555.9L659.4 555.7L660.1 555.5L660.8 555.4L661.5 555.2L662.2 555.1L663.0 554.9L663.7 554.7L664.4 554.6L665.2 554.4L665.9 554.3L666.7 554.1L667.5 554.0L668.3 553.8L669.1 553.7L669.9 553.5L670.7 553.4L671.5 553.2L672.3 553.1L673.2 552.9L674.0 552.8L674.9 552.6L675.8 552.5L676.7 552.3L677.5 552.2L678.4 552.0L679.4 551.9L680.3 551.7L681.2 551.6L682.2 551.4L683.1 551.3L684.1 551.2L685.1 551.0L686.1 550.9L687.1 550.8L688.1 550.7L689.1 550.5L690.1 550.4L691.2 550.3L692.2 550.2L693.3 550.1L694.4 550.0L695.5 549.9L696.6 549.8L697.7 549.7L698.9 549.6L700.0 549.5L701.2 549.4L702.4 549.4L703.5 549.3L704.7 549.2L706.0 549.1L707.2 549.0L708.4 549.0L709.7 548.9L711.0 548.8L712.3 548.7L713.6 548.7L714.9 548.6L716.2 548.5L717.6 548.5L718.9 548.4L720.3 548.4L721.7 548.3L723.1 548.3L724.6 548.2L726.0 548.2L727.5 548.2L729.0 548.1L730.5 548.1L732.0 548.1L733.5 548.1L735.1 548.1L736.6 548.1L738.2 548.1L739.8 548.2L741.4 548.2L743.1 548.3L744.7 548.3L746.4 548.4L748.1 548.5L749.8 548.6L751.6 548.7L753.3 548.8L755.1 548.9L756.9 549.0L758.7 549.1L760.6 549.3L762.5 549.5L764.3 549.6L766.2 549.8L768.2 550.0L770.1 550.2L772.1 550.4L774.1 550.7L776.1 550.9L778.2 551.2L780.2 551.4L782.3 551.7L784.4 552.0L786.6 552.3L788.7 552.7L790.9 553.0L793.2 553.4L795.4 553.8L797.7 554.2L800.0 554.6L802.3 555.1L804.6 555.5L807.0 556.0L809.4 556.5L811.8 557.1L814.3 557.6L816.8 558.2L819.3 558.9L821.8 559.5L824.4 560.2L827.0 560.9L829.6 561.6L832.3 562.4L835.0 563.2L837.7 564.0L840.5 564.9L843.3 565.9L846.1 566.8L848.9 567.8L851.8 568.9L854.8 570.0L857.7 571.2L860.7 572.4L863.7 573.6L866.8 575.0L869.9 576.3L873.0 577.8L876.2 579.3L879.4 580.8L882.6 582.4L885.9 584.1L889.2 585.8L892.6 587.6L895.9 589.5L899.4 591.4L902.8 593.3L906.4 595.3L909.9 597.3L913.5 599.4L917.1 601.5L920.8 603.6L924.5 605.8L928.3 608.0L932.1 610.3L936.0 612.6L939.9 614.9L943.8 617.2L947.8 619.6L951.8 621.9L955.9 624.3L960.0 626.8L964.2 629.3L968.4 631.8L972.7 634.4L977.0 637.0L981.4 639.7L985.8 642.4L990.3 645.3L994.8 648.2L999.4 651.1L1004.0 654.2L1008.7 657.4L1013.4 660.6L1018.2 664.0L1023.0 667.5L1028.0 671.1L1032.9 674.8L1037.9 678.6L1043.0 682.6L1048.1 686.7L1053.3 691.0L1058.6 695.4L1063.9 699.9L1069.3 704.7L1074.7 709.6L1080.2 714.7L1085.8 720.0L1091.4 725.5L1097.1 731.2L1102.9 737.1L1108.7 743.3L1114.6 749.6L1120.6 756.2L1126.6 763.1L1132.7 770.2L1138.9 777.6L1145.1 785.2L1151.4 793.1L1157.8 801.3L1164.3 809.8L1170.8 818.5L1177.4 827.4L1184.1 836.6L1190.9 846.1L1197.7 855.7L1204.7 865.5L1211.7 875.6L1218.8 885.7L1225.9 896.1L1233.2 906.6L1240.5 917.3L1247.9 928.0L1255.4 938.9L1263.0 949.9L1270.7 961.0L1278.5 972.2L1286.4 983.4L1294.3 994.7L1302.3 1006.1L1310.5 1017.4L1318.7 1028.8L1327.0 1040.1L1335.5 1051.4L1344.0 1062.5L1352.6 1073.6L1361.3 1084.6L1370.1 1095.4L1379.1 1106.0L1388.1 1116.5L1397.2 1126.7L1406.5 1136.6L1415.8 1146.3L1425.3 1155.7L1434.8 1164.8L1444.5 1173.5L1454.3 1181.9L1464.2 1189.8L1474.2 1197.4L1484.3 1204.5L1494.6 1211.0L1504.9 1217.0L1515.4 1222.4L1526.0 1227.0L1536.7 1230.9L1547.6 1233.9L1558.6 1236.0L1569.7 1237.1L1580.9 1237.1L1592.3 1236.0L1603.7 1233.7L1615.4 1230.2L1627.1 1225.3L1639.0 1219.0L1651.1 1211.3L1663.3 1202.0L1675.6 1191.2L1688.0 1178.6L1700.6 1164.3L1713.4 1148.2L1726.3 1129.9L1739.3 1109.0L1752.5 1085.3L1765.9 1058.2L1779.4 1027.5L1793.0 992.8L1806.8 953.8L1820.8 909.9L1835.0 861.0L1849.3 806.6L1863.7 746.4L1878.4 679.9L1893.2 606.9L1908.2 526.9L1923.3 439.6L1938.7 344.6L1954.2 241.5L1969.9 130.1L1985.7 9.9L2001.8 -119.3L2017.9 -256.6L2034.2 -401.0L2050.4 -551.7L2066.7 -707.4L2082.8 -867.4L2098.8 -1030.5L2114.7 -1195.7L2130.2 -1362.1L2145.5 -1528.7L2160.4 -1694.5L2174.9 -1858.4L2189.0 -2019.5L2202.5 -2176.8L2215.5 -2329.2L2227.9 -2475.9L2239.5 -2615.7L2250.5 -2747.6L2260.6 -2870.8L2270.0 -2984.2L2278.4 -3087.0L2286.0 -3179.5L2292.9 -3262.3L2298.9 -3335.9L2304.3 -3400.9L2308.9 -3457.8L2313.0 -3507.0L2316.5 -3549.3L2319.4 -3585.1L2321.9 -3614.9L2323.9 -3639.3L2325.5 -3658.9L2326.7 -3674.1L2327.7 -3685.5L2328.3 -3693.7L2328.8 -3699.2L2329.1 -3702.6L2329.2 -3704.3L2329.3 -3704.9L2329.3 -3705.0" fill="none" stroke="#0000ff" stroke-width="1.5" stroke-linejoin="round"/><path d="M594.8 655.6 L604.7 655.6 L599.8 664.2ZM594.9 643.3 L604.8 643.3 L599.8 651.9ZM594.9 631.0 L604.8 631.0 L599.9 639.6ZM595.0 620.5 L604.9 620.5 L599.9 629.1ZM595.1 611.7 L605.0 611.7 L600.0 620.3ZM595.2 603.0 L605.1 603.0 L600.1 611.5ZM595.3 595.9 L605.2 595.9 L600.3 604.5ZM595.5 590.7 L605.4 590.7 L600.5 599.2ZM595.7 586.3 L605.6 586.3 L600.7 594.9ZM596.0 582.8 L605.9 582.8 L601.0 591.4ZM596.4 580.1 L606.3 580.1 L601.3 588.7ZM596.8 579.3 L606.7 579.3 L601.8 587.8ZM597.4 578.4 L607.3 578.4 L602.3 587.0ZM598.1 577.9 L608.0 577.9 L603.1 586.4ZM599.0 577.3 L608.9 577.3 L603.9 585.9ZM600.1 576.6 L610.0 576.6 L605.1 585.2ZM601.5 575.9 L611.4 575.9 L606.5 584.5ZM603.3 574.9 L613.2 574.9 L608.3 583.5ZM605.6 573.7 L615.5 573.7 L610.5 582.2ZM608.4 572.1 L618.3 572.1 L613.3 580.7ZM611.9 570.3 L621.8 570.3 L616.9 578.9ZM616.4 567.9 L626.3 567.9 L621.4 576.4ZM622.1 564.4 L632.0 564.4 L627.0 572.9ZM629.2 560.8 L639.1 560.8 L634.1 569.4ZM638.1 557.9 L648.0 557.9 L643.0 566.4ZM649.3 553.8 L659.2 553.8 L654.3 562.4ZM663.5 550.8 L673.4 550.8 L668.5 559.4ZM681.3 547.7 L691.2 547.7 L686.3 556.3ZM703.8 545.9 L713.7 545.9 L708.7 554.5ZM732.0 544.7 L741.9 544.7 L737.0 553.3ZM767.6 547.0 L777.5 547.0 L772.6 555.6ZM812.4 554.2 L822.3 554.2 L817.4 562.8ZM868.8 572.3 L878.7 572.3 L873.7 580.8ZM939.8 615.2 L949.7 615.2 L944.7 623.8ZM1029.1 667.0 L1039.0 667.0 L1034.1 675.6ZM1141.6 771.4 L1151.5 771.4 L1146.6 780.0ZM1283.2 988.9 L1293.1 988.9 L1288.2 997.5ZM1461.5 1224.0 L1471.4 1224.0 L1466.5 1232.6ZM1686.0 1281.9 L1695.9 1281.9 L1690.9 1290.5ZM1968.6 617.0 L1978.5 617.0 L1973.5 625.6ZM2324.3 -3707.8 L2334.2 -3707.8 L2329.3 -3699.3Z" fill="#0000ff" stroke="#0000ff" stroke-width="2.1" stroke-linejoin="miter"/></g>
<g clip-path="url(#ci)"><path d="M599.8 702.3L599.8 702.3L599.8 702.3L599.8 702.3L599.8 702.3L599.8 702.3L599.8 702.2L599.8 702.2L599.8 702.2L599.8 702.1L599.8 702.0L599.8 701.9L599.8 701.8L599.8 701.7L599.8 701.5L599.8 701.3L599.8 701.1L599.8 700.9L599.8 700.6L599.8 700.3L599.8 700.0L599.8 699.6L599.8 699.2L599.8 698.8L599.8 698.3L599.8 697.8L599.8 697.3L599.8 696.8L599.8 696.2L599.8 695.7L599.8 695.1L599.8 694.5L599.8 693.9L599.8 693.2L599.8 692.6L599.8 692.0L599.8 691.4L599.8 690.7L599.8 690.1L599.8 689.5L599.8 688.9L599.8 688.3L599.8 687.6L599.8 687.1L599.8 686.5L599.8 685.9L599.8 685.3L599.8 684.7L599.8 684.2L599.8 683.6L599.8 683.0L599.8 682.5L599.9 681.9L599.9 681.4L599.9 680.8L599.9 680.3L599.9 679.7L599.9 679.2L599.9 678.6L599.9 678.0L599.9 677.5L599.9 676.9L599.9 676.3L599.9 675.7L599.9 675.1L599.9 674.6L599.9 674.0L599.9 673.4L599.9 672.8L599.9 672.2L599.9 671.6L599.9 671.0L599.9 670.4L599.9 669.8L599.9 669.2L599.9 668.7L599.9 668.1L599.9 667.5L599.9 666.9L599.9 666.3L599.9 665.8L600.0 665.2L600.0 664.6L600.0 664.1L600.0 663.5L600.0 663.0L600.0 662.4L600.0 661.9L600.0 661.3L600.0 660.8L600.0 660.3L600.0 659.8L600.0 659.2L600.0 658.7L600.0 658.2L600.0 657.7L600.0 657.2L600.0 656.7L600.0 656.2L600.0 655.7L600.0 655.2L600.0 654.8L600.0 654.3L600.1 653.8L600.1 653.3L600.1 652.9L600.1 652.4L600.1 652.0L600.1 651.5L600.1 651.1L600.1 650.6L600.1 650.2L600.1 649.8L600.1 649.3L600.1 648.9L600.1 648.5L600.1 648.1L600.1 647.7L600.1 647.3L600.1 646.9L600.2 646.5L600.2 646.1L600.2 645.7L600.2 645.3L600.2 644.9L600.2 644.5L600.2 644.2L600.2 643.8L600.2 643.4L600.2 643.1L600.2 642.7L600.2 642.4L600.2 642.0L600.2 641.7L600.2 641.3L600.3 641.0L600.3 640.6L600.3 640.3L600.3 640.0L600.3 639.6L600.3 639.3L600.3 639.0L600.3 638.6L600.3 638.3L600.3 638.0L600.3 637.7L600.3 637.4L600.4 637.1L600.4 636.7L600.4 636.4L600.4 636.1L600.4 635.8L600.4 635.5L600.4 635.2L600.4 635.0L600.4 634.7L600.4 634.4L600.4 634.1L600.5 633.8L600.5 633.6L600.5 633.3L600.5 633.0L600.5 632.8L600.5 632.5L600.5 632.3L600.5 632.0L600.5 631.8L600.5 631.6L600.6 631.3L600.6 631.1L600.6 630.9L600.6 630.6L600.6 630.4L600.6 630.2L600.6 630.0L600.6 629.8L600.7 629.6L600.7 629.4L600.7 629.2L600.7 629.0L600.7 628.8L600.7 628.6L600.7 628.4L600.7 628.2L600.8 628.0L600.8 627.8L600.8 627.6L600.8 627.4L600.8 627.3L600.8 627.1L600.8 626.9L600.8 626.7L600.9 626.5L600.9 626.3L600.9 626.2L600.9 626.0L600.9 625.8L600.9 625.6L601.0 625.5L601.0 625.3L601.0 625.1L601.0 624.9L601.0 624.8L601.0 624.6L601.1 624.4L601.1 624.2L601.1 624.1L601.1 623.9L601.1 623.7L601.1 623.5L601.2 623.3L601.2 623.1L601.2 622.9L601.2 622.8L601.2 622.6L601.2 622.4L601.3 622.2L601.3 622.0L601.3 621.7L601.3 621.5L601.3 621.3L601.4 621.1L601.4 620.9L601.4 620.6L601.4 620.4L601.4 620.2L601.5 619.9L601.5 619.7L601.5 619.4L601.5 619.2L601.6 618.9L601.6 618.7L601.6 618.4L601.6 618.2L601.7 617.9L601.7 617.7L601.7 617.4L601.7 617.1L601.7 616.9L601.8 616.6L601.8 616.3L601.8 616.1L601.8 615.8L601.9 615.6L601.9 615.3L601.9 615.0L602.0 614.8L602.0 614.5L602.0 614.2L602.0 614.0L602.1 613.7L602.1 613.4L602.1 613.2L602.2 612.9L602.2 612.6L602.2 612.3L602.2 612.1L602.3 611.8L602.3 611.5L602.3 611.2L602.4 610.9L602.4 610.6L602.4 610.4L602.5 610.1L602.5 609.8L602.5 609.5L602.6 609.2L602.6 608.9L602.6 608.6L602.7 608.3L602.7 608.0L602.7 607.7L602.8 607.4L602.8 607.2L602.8 606.9L602.9 606.6L602.9 606.3L603.0 606.0L603.0 605.8L603.0 605.5L603.1 605.2L603.1 605.0L603.2 604.7L603.2 604.5L603.2 604.2L603.3 604.0L603.3 603.7L603.4 603.5L603.4 603.3L603.5 603.0L603.5 602.8L603.6 602.6L603.6 602.4L603.6 602.1L603.7 601.9L603.7 601.7L603.8 601.5L603.8 601.3L603.9 601.1L603.9 600.9L604.0 600.7L604.0 600.5L604.1 600.3L604.1 600.1L604.2 599.9L604.2 599.7L604.3 599.6L604.4 599.4L604.4 599.2L604.5 599.0L604.5 598.8L604.6 598.7L604.6 598.5L604.7 598.3L604.7 598.1L604.8 598.0L604.9 597.8L604.9 597.7L605.0 597.5L605.1 597.3L605.1 597.2L605.2 597.0L605.2 596.9L605.3 596.7L605.4 596.6L605.4 596.4L605.5 596.3L605.6 596.2L605.7 596.0L605.7 595.9L605.8 595.8L605.9 595.6L605.9 595.5L606.0 595.4L606.1 595.2L606.2 595.1L606.2 595.0L606.3 594.8L606.4 594.7L606.5 594.6L606.5 594.5L606.6 594.3L606.7 594.2L606.8 594.1L606.9 594.0L607.0 593.9L607.0 593.7L607.1 593.6L607.2 593.5L607.3 593.4L607.4 593.3L607.5 593.2L607.6 593.1L607.7 592.9L607.8 592.8L607.9 592.7L608.0 592.6L608.0 592.5L608.1 592.4L608.2 592.3L608.3 592.2L608.4 592.0L608.5 591.9L608.7 591.8L608.8 591.7L608.9 591.6L609.0 591.5L609.1 591.4L609.2 591.3L609.3 591.2L609.4 591.1L609.5 590.9L609.6 590.8L609.8 590.7L609.9 590.6L610.0 590.5L610.1 590.3L610.2 590.2L610.4 590.1L610.5 589.9L610.6 589.8L610.7 589.6L610.9 589.5L611.0 589.4L611.1 589.2L611.3 589.0L611.4 588.9L611.5 588.7L611.7 588.6L611.8 588.4L612.0 588.2L612.1 588.1L612.2 587.9L612.4 587.7L612.5 587.6L612.7 587.4L612.8 587.2L613.0 587.0L613.1 586.9L613.3 586.7L613.5 586.5L613.6 586.3L613.8 586.2L613.9 586.0L614.1 585.8L614.3 585.6L614.5 585.5L614.6 585.3L614.8 585.1L615.0 584.9L615.2 584.7L615.3 584.6L615.5 584.4L615.7 584.2L615.9 584.0L616.1 583.8L616.3 583.6L616.5 583.4L616.7 583.3L616.9 583.1L617.1 582.9L617.3 582.7L617.5 582.5L617.7 582.3L617.9 582.1L618.1 581.8L618.3 581.6L618.5 581.4L618.7 581.2L619.0 581.0L619.2 580.8L619.4 580.6L619.6 580.4L619.9 580.2L620.1 580.0L620.3 579.7L620.6 579.5L620.8 579.3L621.1 579.1L621.3 578.9L621.6 578.7L621.8 578.5L622.1 578.3L622.3 578.1L622.6 577.8L622.9 577.6L623.1 577.4L623.4 577.2L623.7 577.0L624.0 576.8L624.2 576.6L624.5 576.4L624.8 576.2L625.1 576.0L625.4 575.8L625.7 575.6L626.0 575.4L626.3 575.2L626.6 575.0L626.9 574.8L627.3 574.6L627.6 574.4L627.9 574.2L628.2 574.0L628.6 573.8L628.9 573.6L629.2 573.4L629.6 573.2L629.9 573.0L630.3 572.9L630.6 572.7L631.0 572.5L631.4 572.3L631.7 572.1L632.1 571.9L632.5 571.7L632.9 571.5L633.2 571.3L633.6 571.1L634.0 570.9L634.4 570.7L634.8 570.5L635.2 570.3L635.6 570.1L636.1 570.0L636.5 569.8L636.9 569.6L637.3 569.4L637.8 569.2L638.2 569.0L638.7 568.8L639.1 568.6L639.6 568.4L640.0 568.2L640.5 568.0L641.0 567.8L641.5 567.6L641.9 567.4L642.4 567.3L642.9 567.1L643.4 566.9L643.9 566.7L644.5 566.5L645.0 566.3L645.5 566.1L646.0 565.9L646.6 565.7L647.1 565.5L647.7 565.3L648.2 565.1L648.8 564.9L649.4 564.7L649.9 564.5L650.5 564.3L651.1 564.2L651.7 564.0L652.3 563.8L652.9 563.6L653.5 563.4L654.2 563.2L654.8 563.0L655.4 562.8L656.1 562.6L656.7 562.4L657.4 562.2L658.1 562.0L658.7 561.8L659.4 561.6L660.1 561.4L660.8 561.2L661.5 561.0L662.2 560.9L663.0 560.7L663.7 560.5L664.4 560.3L665.2 560.2L665.9 560.0L666.7 559.8L667.5 559.7L668.3 559.5L669.1 559.4L669.9 559.2L670.7 559.1L671.5 559.0L672.3 558.9L673.2 558.7L674.0 558.6L674.9 558.5L675.8 558.4L676.7 558.3L677.5 558.2L678.4 558.1L679.4 558.1L680.3 558.0L681.2 557.9L682.2 557.8L683.1 557.7L684.1 557.6L685.1 557.6L686.1 557.5L687.1 557.4L688.1 557.3L689.1 557.3L690.1 557.2L691.2 557.1L692.2 557.1L693.3 557.0L694.4 556.9L695.5 556.9L696.6 556.8L697.7 556.8L698.9 556.7L700.0 556.7L701.2 556.6L702.4 556.6L703.5 556.5L704.7 556.5L706.0 556.5L707.2 556.5L708.4 556.5L709.7 556.5L711.0 556.5L712.3 556.5L713.6 556.5L714.9 556.6L716.2 556.6L717.6 556.7L718.9 556.8L720.3 556.8L721.7 557.0L723.1 557.1L724.6 557.2L726.0 557.4L727.5 557.6L729.0 557.8L730.5 558.0L732.0 558.2L733.5 558.5L735.1 558.8L736.6 559.1L738.2 559.5L739.8 559.9L741.4 560.3L743.1 560.7L744.7 561.2L746.4 561.7L748.1 562.2L749.8 562.7L751.6 563.2L753.3 563.7L755.1 564.3L756.9 564.9L758.7 565.4L760.6 566.0L762.5 566.6L764.3 567.2L766.2 567.7L768.2 568.3L770.1 568.9L772.1 569.4L774.1 570.0L776.1 570.5L778.2 571.1L780.2 571.6L782.3 572.1L784.4 572.6L786.6 573.2L788.7 573.7L790.9 574.2L793.2 574.8L795.4 575.3L797.7 575.9L800.0 576.5L802.3 577.1L804.6 577.7L807.0 578.3L809.4 579.0L811.8 579.7L814.3 580.4L816.8 581.2L819.3 582.0L821.8 582.8L824.4 583.7L827.0 584.6L829.6 585.5L832.3 586.5L835.0 587.6L837.7 588.7L840.5 589.8L843.3 591.0L846.1 592.2L848.9 593.5L851.8 594.8L854.8 596.2L857.7 597.6L860.7 599.2L863.7 600.7L866.8 602.3L869.9 604.0L873.0 605.8L876.2 607.6L879.4 609.4L882.6 611.4L885.9 613.4L889.2 615.5L892.6 617.6L895.9 619.8L899.4 622.1L902.8 624.4L906.4 626.8L909.9 629.3L913.5 631.8L917.1 634.4L920.8 637.1L924.5 639.9L928.3 642.7L932.1 645.5L936.0 648.5L939.9 651.5L943.8 654.6L947.8 657.7L951.8 660.9L955.9 664.2L960.0 667.6L964.2 671.0L968.4 674.5L972.7 678.1L977.0 681.7L981.4 685.4L985.8 689.2L990.3 693.1L994.8 697.1L999.4 701.1L1004.0 705.2L1008.7 709.4L1013.4 713.7L1018.2 718.0L1023.0 722.5L1028.0 727.0L1032.9 731.7L1037.9 736.4L1043.0 741.2L1048.1 746.1L1053.3 751.1L1058.6 756.3L1063.9 761.7L1069.3 767.2L1074.7 773.0L1080.2 778.9L1085.8 785.1L1091.4 791.6L1097.1 798.3L1102.9 805.3L1108.7 812.6L1114.6 820.3L1120.6 828.3L1126.6 836.7L1132.7 845.5L1138.9 854.6L1145.1 864.2L1151.4 874.3L1157.8 884.7L1164.3 895.7L1170.8 907.1L1177.4 919.0L1184.1 931.3L1190.9 944.1L1197.7 957.4L1204.7 971.1L1211.7 985.3L1218.8 999.9L1225.9 1015.0L1233.2 1030.5L1240.5 1046.6L1247.9 1063.0L1255.4 1080.0L1263.0 1097.4L1270.7 1115.2L1278.5 1133.5L1286.4 1152.3L1294.3 1171.5L1302.3 1191.2L1310.5 1211.3L1318.7 1231.8L1327.0 1252.8L1335.5 1274.2L1344.0 1295.9L1352.6 1318.0L1361.3 1340.4L1370.1 1363.2L1379.1 1386.3L1388.1 1409.7L1397.2 1433.4L1406.5 1457.3L1415.8 1481.5L1425.3 1505.9L1434.8 1530.6L1444.5 1555.4L1454.3 1580.4L1464.2 1605.7L1474.2 1631.0L1484.3 1656.5L1494.6 1682.0L1504.9 1707.4L1515.4 1732.4L1526.0 1757.1L1536.7 1781.2L1547.6 1804.6L1558.6 1827.2L1569.7 1848.8L1580.9 1869.3L1592.3 1888.5L1603.7 1906.4L1615.4 1922.7L1627.1 1937.4L1639.0 1950.2L1651.1 1961.1L1663.3 1969.9L1675.6 1976.5L1688.0 1980.8L1700.6 1982.5L1713.4 1981.6L1726.3 1977.7L1739.3 1970.6L1752.5 1960.0L1765.9 1945.6L1779.4 1927.1L1793.0 1904.2L1806.8 1876.7L1820.8 1844.1L1835.0 1806.3L1849.3 1762.9L1863.7 1713.7L1878.4 1658.4L1893.2 1596.6L1908.2 1528.1L1923.3 1452.6L1938.7 1369.8L1954.2 1279.3L1969.9 1181.0L1985.7 1074.6L2001.8 959.8L2017.9 837.5L2034.2 708.6L2050.4 573.9L2066.7 434.4L2082.8 290.9L2098.8 144.5L2114.7 -4.0L2130.2 -153.7L2145.5 -303.6L2160.4 -452.9L2174.9 -600.6L2189.0 -745.9L2202.5 -887.8L2215.5 -1025.3L2227.9 -1157.7L2239.5 -1283.9L2250.5 -1403.2L2260.6 -1514.4L2270.0 -1616.8L2278.4 -1709.7L2286.0 -1793.3L2292.9 -1868.1L2298.9 -1934.6L2304.3 -1993.3L2308.9 -2044.7L2313.0 -2089.2L2316.5 -2127.4L2319.4 -2159.7L2321.9 -2186.7L2323.9 -2208.7L2325.5 -2226.4L2326.7 -2240.1L2327.7 -2250.5L2328.3 -2257.9L2328.8 -2262.8L2329.1 -2265.9L2329.2 -2267.4L2329.3 -2268.0L2329.3 -2268.1" fill="none" stroke="#ff0080" stroke-width="1.5" stroke-linejoin="round"/><circle cx="599.8" cy="702.3" r="3.7" fill="#ff0080" stroke="#ff0080" stroke-width="2.1"/><circle cx="599.8" cy="688.3" r="3.7" fill="#ff0080" stroke="#ff0080" stroke-width="2.1"/><circle cx="599.9" cy="677.7" r="3.7" fill="#ff0080" stroke="#ff0080" stroke-width="2.1"/><circle cx="599.9" cy="665.5" r="3.7" fill="#ff0080" stroke="#ff0080" stroke-width="2.1"/><circle cx="600.0" cy="654.9" r="3.7" fill="#ff0080" stroke="#ff0080" stroke-width="2.1"/><circle cx="600.1" cy="646.2" r="3.7" fill="#ff0080" stroke="#ff0080" stroke-width="2.1"/><circle cx="600.3" cy="639.1" r="3.7" fill="#ff0080" stroke="#ff0080" stroke-width="2.1"/><circle cx="600.5" cy="633.0" r="3.7" fill="#ff0080" stroke="#ff0080" stroke-width="2.1"/><circle cx="600.7" cy="628.6" r="3.7" fill="#ff0080" stroke="#ff0080" stroke-width="2.1"/><circle cx="601.0" cy="625.1" r="3.7" fill="#ff0080" stroke="#ff0080" stroke-width="2.1"/><circle cx="601.3" cy="621.6" r="3.7" fill="#ff0080" stroke="#ff0080" stroke-width="2.1"/><circle cx="601.8" cy="616.3" r="3.7" fill="#ff0080" stroke="#ff0080" stroke-width="2.1"/><circle cx="602.3" cy="611.1" r="3.7" fill="#ff0080" stroke="#ff0080" stroke-width="2.1"/><circle cx="603.1" cy="604.9" r="3.7" fill="#ff0080" stroke="#ff0080" stroke-width="2.1"/><circle cx="603.9" cy="600.6" r="3.7" fill="#ff0080" stroke="#ff0080" stroke-width="2.1"/><circle cx="605.1" cy="597.0" r="3.7" fill="#ff0080" stroke="#ff0080" stroke-width="2.1"/><circle cx="606.5" cy="594.4" r="3.7" fill="#ff0080" stroke="#ff0080" stroke-width="2.1"/><circle cx="608.3" cy="592.1" r="3.7" fill="#ff0080" stroke="#ff0080" stroke-width="2.1"/><circle cx="610.5" cy="590.0" r="3.7" fill="#ff0080" stroke="#ff0080" stroke-width="2.1"/><circle cx="613.3" cy="586.5" r="3.7" fill="#ff0080" stroke="#ff0080" stroke-width="2.1"/><circle cx="616.9" cy="583.0" r="3.7" fill="#ff0080" stroke="#ff0080" stroke-width="2.1"/><circle cx="621.4" cy="578.6" r="3.7" fill="#ff0080" stroke="#ff0080" stroke-width="2.1"/><circle cx="627.0" cy="574.6" r="3.7" fill="#ff0080" stroke="#ff0080" stroke-width="2.1"/><circle cx="634.1" cy="570.7" r="3.7" fill="#ff0080" stroke="#ff0080" stroke-width="2.1"/><circle cx="643.0" cy="566.9" r="3.7" fill="#ff0080" stroke="#ff0080" stroke-width="2.1"/><circle cx="654.3" cy="563.0" r="3.7" fill="#ff0080" stroke="#ff0080" stroke-width="2.1"/><circle cx="668.5" cy="559.0" r="3.7" fill="#ff0080" stroke="#ff0080" stroke-width="2.1"/><circle cx="686.3" cy="557.4" r="3.7" fill="#ff0080" stroke="#ff0080" stroke-width="2.1"/><circle cx="708.7" cy="556.0" r="3.7" fill="#ff0080" stroke="#ff0080" stroke-width="2.1"/><circle cx="737.0" cy="557.6" r="3.7" fill="#ff0080" stroke="#ff0080" stroke-width="2.1"/><circle cx="772.6" cy="570.7" r="3.7" fill="#ff0080" stroke="#ff0080" stroke-width="2.1"/><circle cx="817.4" cy="579.5" r="3.7" fill="#ff0080" stroke="#ff0080" stroke-width="2.1"/><circle cx="873.7" cy="603.2" r="3.7" fill="#ff0080" stroke="#ff0080" stroke-width="2.1"/><circle cx="944.7" cy="653.2" r="3.7" fill="#ff0080" stroke="#ff0080" stroke-width="2.1"/><circle cx="1034.1" cy="730.4" r="3.7" fill="#ff0080" stroke="#ff0080" stroke-width="2.1"/><circle cx="1146.6" cy="843.5" r="3.7" fill="#ff0080" stroke="#ff0080" stroke-width="2.1"/><circle cx="1288.2" cy="1140.9" r="3.7" fill="#ff0080" stroke="#ff0080" stroke-width="2.1"/><circle cx="1466.5" cy="1621.7" r="3.7" fill="#ff0080" stroke="#ff0080" stroke-width="2.1"/><circle cx="1690.9" cy="2158.5" r="3.7" fill="#ff0080" stroke="#ff0080" stroke-width="2.1"/><circle cx="1973.5" cy="1639.2" r="3.7" fill="#ff0080" stroke="#ff0080" stroke-width="2.1"/><circle cx="2329.3" cy="-2268.1" r="3.7" fill="#ff0080" stroke="#ff0080" stroke-width="2.1"/></g>
<g clip-path="url(#ci)"><path d="M599.8 732.1L599.8 732.1L599.8 732.1L599.8 732.2L599.8 732.2L599.8 732.2L599.8 732.3L599.8 732.4L599.8 732.5L599.8 732.6L599.8 732.8L599.8 733.0L599.8 733.3L599.8 733.6L599.8 734.0L599.8 734.4L599.8 734.9L599.8 735.4L599.8 736.1L599.8 736.8L599.8 737.5L599.8 738.4L599.8 739.3L599.8 740.3L599.8 741.3L599.8 742.4L599.8 743.5L599.8 744.7L599.8 745.9L599.8 747.1L599.8 748.4L599.8 749.6L599.8 750.9L599.8 752.1L599.8 753.3L599.8 754.5L599.8 755.6L599.8 756.8L599.8 757.8L599.8 758.8L599.8 759.8L599.8 760.7L599.8 761.5L599.8 762.3L599.8 763.0L599.8 763.6L599.8 764.2L599.8 764.7L599.8 765.2L599.8 765.7L599.8 766.1L599.8 766.5L599.9 766.9L599.9 767.2L599.9 767.5L599.9 767.8L599.9 768.0L599.9 768.3L599.9 768.5L599.9 768.7L599.9 769.0L599.9 769.2L599.9 769.4L599.9 769.6L599.9 769.8L599.9 770.1L599.9 770.3L599.9 770.5L599.9 770.7L599.9 771.0L599.9 771.2L599.9 771.4L599.9 771.6L599.9 771.8L599.9 772.1L599.9 772.3L599.9 772.5L599.9 772.7L599.9 772.9L599.9 773.1L599.9 773.4L600.0 773.6L600.0 773.8L600.0 774.0L600.0 774.2L600.0 774.5L600.0 774.7L600.0 774.9L600.0 775.1L600.0 775.3L600.0 775.6L600.0 775.8L600.0 776.0L600.0 776.2L600.0 776.4L600.0 776.7L600.0 776.9L600.0 777.1L600.0 777.3L600.0 777.5L600.0 777.8L600.0 778.0L600.0 778.2L600.1 778.4L600.1 778.6L600.1 778.9L600.1 779.1L600.1 779.3L600.1 779.5L600.1 779.7L600.1 779.9L600.1 780.2L600.1 780.4L600.1 780.6L600.1 780.8L600.1 781.0L600.1 781.3L600.1 781.5L600.1 781.7L600.1 781.9L600.2 782.1L600.2 782.4L600.2 782.6L600.2 782.8L600.2 783.0L600.2 783.2L600.2 783.5L600.2 783.7L600.2 783.9L600.2 784.1L600.2 784.3L600.2 784.5L600.2 784.7L600.2 785.0L600.2 785.2L600.3 785.4L600.3 785.6L600.3 785.8L600.3 786.0L600.3 786.2L600.3 786.4L600.3 786.6L600.3 786.8L600.3 787.0L600.3 787.2L600.3 787.3L600.3 787.5L600.4 787.7L600.4 787.9L600.4 788.1L600.4 788.3L600.4 788.4L600.4 788.6L600.4 788.8L600.4 789.0L600.4 789.2L600.4 789.3L600.4 789.5L600.5 789.7L600.5 789.9L600.5 790.0L600.5 790.2L600.5 790.4L600.5 790.6L600.5 790.7L600.5 790.9L600.5 791.1L600.5 791.3L600.6 791.4L600.6 791.6L600.6 791.8L600.6 791.9L600.6 792.1L600.6 792.3L600.6 792.4L600.6 792.6L600.7 792.8L600.7 792.9L600.7 793.1L600.7 793.2L600.7 793.4L600.7 793.6L600.7 793.7L600.7 793.9L600.8 794.0L600.8 794.1L600.8 794.3L600.8 794.4L600.8 794.6L600.8 794.7L600.8 794.8L600.8 794.9L600.9 795.1L600.9 795.2L600.9 795.3L600.9 795.4L600.9 795.5L600.9 795.7L601.0 795.8L601.0 795.9L601.0 796.0L601.0 796.1L601.0 796.2L601.0 796.3L601.1 796.4L601.1 796.4L601.1 796.5L601.1 796.6L601.1 796.7L601.1 796.8L601.2 796.8L601.2 796.9L601.2 797.0L601.2 797.0L601.2 797.1L601.2 797.2L601.3 797.2L601.3 797.3L601.3 797.4L601.3 797.4L601.3 797.5L601.4 797.5L601.4 797.6L601.4 797.6L601.4 797.7L601.4 797.7L601.5 797.7L601.5 797.8L601.5 797.8L601.5 797.9L601.6 797.9L601.6 797.9L601.6 798.0L601.6 798.0L601.7 798.0L601.7 798.1L601.7 798.1L601.7 798.1L601.7 798.1L601.8 798.2L601.8 798.2L601.8 798.2L601.8 798.2L601.9 798.3L601.9 798.3L601.9 798.3L602.0 798.3L602.0 798.3L602.0 798.3L602.0 798.3L602.1 798.4L602.1 798.4L602.1 798.4L602.2 798.4L602.2 798.4L602.2 798.4L602.2 798.4L602.3 798.4L602.3 798.4L602.3 798.4L602.4 798.4L602.4 798.4L602.4 798.4L602.5 798.4L602.5 798.4L602.5 798.4L602.6 798.4L602.6 798.4L602.6 798.4L602.7 798.4L602.7 798.4L602.7 798.4L602.8 798.3L602.8 798.3L602.8 798.3L602.9 798.3L602.9 798.3L603.0 798.3L603.0 798.3L603.0 798.3L603.1 798.3L603.1 798.2L603.2 798.2L603.2 798.2L603.2 798.2L603.3 798.2L603.3 798.2L603.4 798.2L603.4 798.1L603.5 798.1L603.5 798.1L603.6 798.1L603.6 798.1L603.6 798.0L603.7 798.0L603.7 798.0L603.8 798.0L603.8 798.0L603.9 797.9L603.9 797.9L604.0 797.9L604.0 797.9L604.1 797.9L604.1 797.8L604.2 797.8L604.2 797.8L604.3 797.8L604.4 797.7L604.4 797.7L604.5 797.7L604.5 797.7L604.6 797.6L604.6 797.6L604.7 797.6L604.7 797.6L604.8 797.5L604.9 797.5L604.9 797.5L605.0 797.4L605.1 797.4L605.1 797.4L605.2 797.3L605.2 797.3L605.3 797.3L605.4 797.3L605.4 797.2L605.5 797.2L605.6 797.2L605.7 797.1L605.7 797.1L605.8 797.0L605.9 797.0L605.9 797.0L606.0 796.9L606.1 796.9L606.2 796.9L606.2 796.8L606.3 796.8L606.4 796.8L606.5 796.7L606.5 796.7L606.6 796.6L606.7 796.6L606.8 796.6L606.9 796.5L607.0 796.5L607.0 796.4L607.1 796.4L607.2 796.3L607.3 796.3L607.4 796.3L607.5 796.2L607.6 796.2L607.7 796.1L607.8 796.1L607.9 796.0L608.0 796.0L608.0 795.9L608.1 795.9L608.2 795.8L608.3 795.8L608.4 795.7L608.5 795.7L608.7 795.7L608.8 795.6L608.9 795.6L609.0 795.5L609.1 795.5L609.2 795.4L609.3 795.3L609.4 795.3L609.5 795.2L609.6 795.2L609.8 795.1L609.9 795.1L610.0 795.0L610.1 795.0L610.2 794.9L610.4 794.9L610.5 794.8L610.6 794.8L610.7 794.7L610.9 794.7L611.0 794.6L611.1 794.6L611.3 794.5L611.4 794.5L611.5 794.4L611.7 794.4L611.8 794.3L612.0 794.2L612.1 794.2L612.2 794.1L612.4 794.1L612.5 794.0L612.7 794.0L612.8 793.9L613.0 793.9L613.1 793.8L613.3 793.8L613.5 793.7L613.6 793.7L613.8 793.6L613.9 793.6L614.1 793.5L614.3 793.5L614.5 793.4L614.6 793.4L614.8 793.3L615.0 793.2L615.2 793.2L615.3 793.1L615.5 793.1L615.7 793.0L615.9 793.0L616.1 792.9L616.3 792.8L616.5 792.8L616.7 792.7L616.9 792.7L617.1 792.6L617.3 792.5L617.5 792.5L617.7 792.4L617.9 792.4L618.1 792.3L618.3 792.2L618.5 792.2L618.7 792.1L619.0 792.0L619.2 792.0L619.4 791.9L619.6 791.8L619.9 791.7L620.1 791.7L620.3 791.6L620.6 791.5L620.8 791.5L621.1 791.4L621.3 791.3L621.6 791.2L621.8 791.2L622.1 791.1L622.3 791.0L622.6 790.9L622.9 790.9L623.1 790.8L623.4 790.7L623.7 790.6L624.0 790.5L624.2 790.5L624.5 790.4L624.8 790.3L625.1 790.2L625.4 790.1L625.7 790.1L626.0 790.0L626.3 789.9L626.6 789.8L626.9 789.7L627.3 789.7L627.6 789.6L627.9 789.5L628.2 789.4L628.6 789.3L628.9 789.2L629.2 789.1L629.6 789.1L629.9 789.0L630.3 788.9L630.6 788.8L631.0 788.7L631.4 788.6L631.7 788.5L632.1 788.4L632.5 788.3L632.9 788.3L633.2 788.2L633.6 788.1L634.0 788.0L634.4 787.9L634.8 787.8L635.2 787.7L635.6 787.6L636.1 787.5L636.5 787.4L636.9 787.3L637.3 787.2L637.8 787.1L638.2 787.0L638.7 786.9L639.1 786.8L639.6 786.7L640.0 786.6L640.5 786.5L641.0 786.4L641.5 786.2L641.9 786.1L642.4 786.0L642.9 785.9L643.4 785.8L643.9 785.7L644.5 785.6L645.0 785.5L645.5 785.4L646.0 785.3L646.6 785.2L647.1 785.1L647.7 785.0L648.2 784.9L648.8 784.8L649.4 784.7L649.9 784.6L650.5 784.5L651.1 784.4L651.7 784.2L652.3 784.1L652.9 784.0L653.5 783.9L654.2 783.8L654.8 783.7L655.4 783.6L656.1 783.5L656.7 783.4L657.4 783.3L658.1 783.2L658.7 783.1L659.4 783.0L660.1 782.9L660.8 782.8L661.5 782.7L662.2 782.5L663.0 782.4L663.7 782.3L664.4 782.2L665.2 782.1L665.9 782.0L666.7 781.9L667.5 781.8L668.3 781.6L669.1 781.5L669.9 781.4L670.7 781.3L671.5 781.2L672.3 781.0L673.2 780.9L674.0 780.8L674.9 780.7L675.8 780.5L676.7 780.4L677.5 780.3L678.4 780.2L679.4 780.0L680.3 779.9L681.2 779.8L682.2 779.6L683.1 779.5L684.1 779.3L685.1 779.2L686.1 779.1L687.1 778.9L688.1 778.8L689.1 778.6L690.1 778.5L691.2 778.4L692.2 778.2L693.3 778.1L694.4 777.9L695.5 777.8L696.6 777.6L697.7 777.5L698.9 777.3L700.0 777.2L701.2 777.0L702.4 776.8L703.5 776.7L704.7 776.5L706.0 776.4L707.2 776.2L708.4 776.0L709.7 775.9L711.0 775.7L712.3 775.5L713.6 775.3L714.9 775.2L716.2 775.0L717.6 774.8L718.9 774.6L720.3 774.4L721.7 774.3L723.1 774.1L724.6 773.9L726.0 773.7L727.5 773.5L729.0 773.3L730.5 773.2L732.0 773.0L733.5 772.8L735.1 772.6L736.6 772.4L738.2 772.3L739.8 772.1L741.4 771.9L743.1 771.7L744.7 771.6L746.4 771.4L748.1 771.2L749.8 771.1L751.6 770.9L753.3 770.7L755.1 770.5L756.9 770.4L758.7 770.2L760.6 770.0L762.5 769.8L764.3 769.6L766.2 769.4L768.2 769.2L770.1 769.0L772.1 768.8L774.1 768.6L776.1 768.4L778.2 768.2L780.2 768.0L782.3 767.7L784.4 767.5L786.6 767.3L788.7 767.0L790.9 766.8L793.2 766.5L795.4 766.3L797.7 766.0L800.0 765.7L802.3 765.5L804.6 765.2L807.0 764.9L809.4 764.6L811.8 764.3L814.3 764.0L816.8 763.7L819.3 763.4L821.8 763.1L824.4 762.8L827.0 762.5L829.6 762.2L832.3 761.8L835.0 761.5L837.7 761.1L840.5 760.8L843.3 760.4L846.1 760.1L848.9 759.7L851.8 759.3L854.8 758.9L857.7 758.5L860.7 758.1L863.7 757.7L866.8 757.2L869.9 756.8L873.0 756.3L876.2 755.8L879.4 755.3L882.6 754.8L885.9 754.3L889.2 753.8L892.6 753.2L895.9 752.7L899.4 752.1L902.8 751.5L906.4 750.9L909.9 750.2L913.5 749.6L917.1 748.9L920.8 748.2L924.5 747.5L928.3 746.7L932.1 746.0L936.0 745.2L939.9 744.4L943.8 743.5L947.8 742.7L951.8 741.8L955.9 740.9L960.0 739.9L964.2 738.9L968.4 737.9L972.7 736.8L977.0 735.7L981.4 734.6L985.8 733.4L990.3 732.1L994.8 730.8L999.4 729.4L1004.0 728.0L1008.7 726.5L1013.4 724.9L1018.2 723.3L1023.0 721.6L1028.0 719.8L1032.9 718.0L1037.9 716.1L1043.0 714.0L1048.1 711.9L1053.3 709.8L1058.6 707.5L1063.9 705.2L1069.3 702.8L1074.7 700.3L1080.2 697.8L1085.8 695.2L1091.4 692.5L1097.1 689.8L1102.9 687.0L1108.7 684.2L1114.6 681.3L1120.6 678.3L1126.6 675.3L1132.7 672.3L1138.9 669.2L1145.1 666.0L1151.4 662.8L1157.8 659.6L1164.3 656.3L1170.8 652.9L1177.4 649.4L1184.1 645.8L1190.9 641.9L1197.7 637.9L1204.7 633.6L1211.7 629.1L1218.8 624.2L1225.9 619.1L1233.2 613.6L1240.5 607.8L1247.9 601.5L1255.4 594.8L1263.0 587.7L1270.7 580.1L1278.5 571.9L1286.4 563.3L1294.3 554.1L1302.3 544.2L1310.5 533.8L1318.7 522.9L1327.0 511.3L1335.5 499.2L1344.0 486.4L1352.6 473.2L1361.3 459.3L1370.1 444.9L1379.1 430.0L1388.1 414.5L1397.2 398.5L1406.5 381.9L1415.8 364.8L1425.3 347.1L1434.8 329.0L1444.5 310.3L1454.3 291.1L1464.2 271.3L1474.2 251.1L1484.3 230.4L1494.6 209.3L1504.9 187.9L1515.4 166.3L1526.0 144.6L1536.7 123.0L1547.6 101.5L1558.6 80.3L1569.7 59.4L1580.9 39.0L1592.3 19.1L1603.7 -0.1L1615.4 -18.5L1627.1 -35.9L1639.0 -52.4L1651.1 -67.8L1663.3 -82.0L1675.6 -94.9L1688.0 -106.3L1700.6 -116.2L1713.4 -124.5L1726.3 -131.5L1739.3 -137.6L1752.5 -143.1L1765.9 -148.4L1779.4 -153.8L1793.0 -159.7L1806.8 -166.4L1820.8 -174.4L1835.0 -183.9L1849.3 -195.2L1863.7 -208.9L1878.4 -225.1L1893.2 -244.4L1908.2 -266.9L1923.3 -293.1L1938.7 -323.4L1954.2 -358.0L1969.9 -397.4L1985.7 -441.9L2001.8 -491.7L2017.9 -546.4L2034.2 -605.5L2050.4 -668.5L2066.7 -734.9L2082.8 -804.0L2098.8 -875.4L2114.7 -948.6L2130.2 -1023.1L2145.5 -1098.2L2160.4 -1173.6L2174.9 -1248.6L2189.0 -1322.7L2202.5 -1395.4L2215.5 -1466.2L2227.9 -1534.6L2239.5 -1600.0L2250.5 -1661.9L2260.6 -1719.7L2270.0 -1773.0L2278.4 -1821.3L2286.0 -1864.8L2292.9 -1903.8L2298.9 -1938.4L2304.3 -1968.9L2308.9 -1995.7L2313.0 -2018.8L2316.5 -2038.7L2319.4 -2055.5L2321.9 -2069.5L2323.9 -2081.0L2325.5 -2090.2L2326.7 -2097.4L2327.7 -2102.8L2328.3 -2106.6L2328.8 -2109.2L2329.1 -2110.8L2329.2 -2111.6L2329.3 -2111.9L2329.3 -2111.9" fill="none" stroke="#0000ff" stroke-width="1.5" stroke-linejoin="round"/><path d="M594.8 729.3 L604.7 729.3 L599.8 737.9ZM594.9 761.6 L604.8 761.6 L599.8 770.1ZM594.9 766.1 L604.8 766.1 L599.9 774.7ZM595.0 770.5 L604.9 770.5 L599.9 779.1ZM595.1 774.9 L605.0 774.9 L600.0 783.5ZM595.2 779.3 L605.1 779.3 L600.1 787.9ZM595.3 783.7 L605.2 783.7 L600.3 792.2ZM595.5 787.2 L605.4 787.2 L600.5 795.8ZM595.7 790.7 L605.6 790.7 L600.7 799.3ZM596.0 793.3 L605.9 793.3 L601.0 801.9ZM596.4 794.7 L606.3 794.7 L601.3 803.3ZM596.8 795.4 L606.7 795.4 L601.8 804.0ZM597.4 795.6 L607.3 795.6 L602.3 804.2ZM598.1 795.4 L608.0 795.4 L603.1 804.0ZM599.0 795.1 L608.9 795.1 L603.9 803.6ZM600.1 794.5 L610.0 794.5 L605.1 803.1ZM601.5 793.8 L611.4 793.8 L606.5 802.4ZM603.3 793.0 L613.2 793.0 L608.3 801.5ZM605.6 791.9 L615.5 791.9 L610.5 800.5ZM608.4 790.9 L618.3 790.9 L613.3 799.4ZM611.9 789.8 L621.8 789.8 L616.9 798.4ZM616.4 788.4 L626.3 788.4 L621.4 797.0ZM622.1 786.8 L632.0 786.8 L627.0 795.4ZM629.2 785.1 L639.1 785.1 L634.1 793.6ZM638.1 783.0 L648.0 783.0 L643.0 791.5ZM649.3 780.9 L659.2 780.9 L654.3 789.4ZM663.5 778.8 L673.4 778.8 L668.5 787.3ZM681.3 776.1 L691.2 776.1 L686.3 784.7ZM703.8 773.1 L713.7 773.1 L708.7 781.7ZM732.0 769.3 L741.9 769.3 L737.0 777.9ZM767.6 766.1 L777.5 766.1 L772.6 774.7ZM812.4 760.9 L822.3 760.9 L817.4 769.4ZM868.8 753.8 L878.7 753.8 L873.7 762.4ZM939.8 741.6 L949.7 741.6 L944.7 750.1ZM1029.1 718.8 L1039.0 718.8 L1034.1 727.3ZM1141.6 662.6 L1151.5 662.6 L1146.6 671.2ZM1283.2 590.7 L1293.1 590.7 L1288.2 599.2ZM1461.5 281.9 L1471.4 281.9 L1466.5 290.5ZM1686.0 -228.7 L1695.9 -228.7 L1690.9 -220.1ZM1968.6 -81.3 L1978.5 -81.3 L1973.5 -72.7ZM2324.3 -2114.8 L2334.2 -2114.8 L2329.3 -2106.2Z" fill="#fff" stroke="#0000ff" stroke-width="2.1" stroke-linejoin="miter"/></g>
<g clip-path="url(#ci)"><path d="M599.8 764.9L599.8 764.9L599.8 764.9L599.8 764.9L599.8 765.0L599.8 765.0L599.8 765.0L599.8 765.0L599.8 765.0L599.8 765.0L599.8 765.0L599.8 765.1L599.8 765.1L599.8 765.1L599.8 765.2L599.8 765.2L599.8 765.3L599.8 765.4L599.8 765.4L599.8 765.5L599.8 765.6L599.8 765.7L599.8 765.8L599.8 766.0L599.8 766.1L599.8 766.2L599.8 766.4L599.8 766.5L599.8 766.7L599.8 766.9L599.8 767.0L599.8 767.2L599.8 767.4L599.8 767.6L599.8 767.8L599.8 767.9L599.8 768.1L599.8 768.3L599.8 768.5L599.8 768.7L599.8 768.9L599.8 769.1L599.8 769.3L599.8 769.5L599.8 769.6L599.8 769.8L599.8 770.0L599.8 770.2L599.8 770.4L599.8 770.5L599.8 770.7L599.8 770.9L599.9 771.1L599.9 771.3L599.9 771.4L599.9 771.6L599.9 771.8L599.9 772.0L599.9 772.1L599.9 772.3L599.9 772.5L599.9 772.7L599.9 772.8L599.9 773.0L599.9 773.2L599.9 773.4L599.9 773.5L599.9 773.7L599.9 773.9L599.9 774.1L599.9 774.2L599.9 774.4L599.9 774.6L599.9 774.8L599.9 774.9L599.9 775.1L599.9 775.3L599.9 775.5L599.9 775.7L599.9 775.8L599.9 776.0L600.0 776.2L600.0 776.4L600.0 776.5L600.0 776.7L600.0 776.9L600.0 777.1L600.0 777.2L600.0 777.4L600.0 777.6L600.0 777.8L600.0 777.9L600.0 778.1L600.0 778.3L600.0 778.5L600.0 778.6L600.0 778.8L600.0 779.0L600.0 779.2L600.0 779.3L600.0 779.5L600.0 779.7L600.0 779.9L600.1 780.0L600.1 780.2L600.1 780.4L600.1 780.6L600.1 780.7L600.1 780.9L600.1 781.1L600.1 781.3L600.1 781.4L600.1 781.6L600.1 781.8L600.1 782.0L600.1 782.1L600.1 782.3L600.1 782.5L600.1 782.7L600.1 782.8L600.2 783.0L600.2 783.2L600.2 783.4L600.2 783.5L600.2 783.7L600.2 783.9L600.2 784.1L600.2 784.2L600.2 784.4L600.2 784.6L600.2 784.8L600.2 784.9L600.2 785.1L600.2 785.3L600.2 785.5L600.3 785.6L600.3 785.8L600.3 786.0L600.3 786.1L600.3 786.3L600.3 786.5L600.3 786.6L600.3 786.8L600.3 787.0L600.3 787.1L600.3 787.3L600.3 787.5L600.4 787.6L600.4 787.8L600.4 787.9L600.4 788.1L600.4 788.2L600.4 788.4L600.4 788.5L600.4 788.7L600.4 788.8L600.4 789.0L600.4 789.1L600.5 789.3L600.5 789.4L600.5 789.6L600.5 789.7L600.5 789.8L600.5 790.0L600.5 790.1L600.5 790.3L600.5 790.4L600.5 790.5L600.6 790.6L600.6 790.8L600.6 790.9L600.6 791.0L600.6 791.1L600.6 791.3L600.6 791.4L600.6 791.5L600.7 791.6L600.7 791.8L600.7 791.9L600.7 792.0L600.7 792.1L600.7 792.2L600.7 792.3L600.7 792.5L600.8 792.6L600.8 792.7L600.8 792.8L600.8 792.9L600.8 793.0L600.8 793.2L600.8 793.3L600.8 793.4L600.9 793.5L600.9 793.6L600.9 793.7L600.9 793.8L600.9 793.9L600.9 794.0L601.0 794.1L601.0 794.2L601.0 794.3L601.0 794.4L601.0 794.5L601.0 794.6L601.1 794.7L601.1 794.8L601.1 794.9L601.1 795.0L601.1 795.1L601.1 795.2L601.2 795.3L601.2 795.4L601.2 795.4L601.2 795.5L601.2 795.6L601.2 795.7L601.3 795.8L601.3 795.8L601.3 795.9L601.3 796.0L601.3 796.0L601.4 796.1L601.4 796.2L601.4 796.2L601.4 796.3L601.4 796.3L601.5 796.4L601.5 796.4L601.5 796.5L601.5 796.5L601.6 796.6L601.6 796.6L601.6 796.7L601.6 796.7L601.7 796.8L601.7 796.8L601.7 796.8L601.7 796.9L601.7 796.9L601.8 796.9L601.8 797.0L601.8 797.0L601.8 797.0L601.9 797.1L601.9 797.1L601.9 797.1L602.0 797.1L602.0 797.1L602.0 797.2L602.0 797.2L602.1 797.2L602.1 797.2L602.1 797.2L602.2 797.3L602.2 797.3L602.2 797.3L602.2 797.3L602.3 797.3L602.3 797.3L602.3 797.3L602.4 797.3L602.4 797.3L602.4 797.3L602.5 797.3L602.5 797.3L602.5 797.3L602.6 797.3L602.6 797.3L602.6 797.3L602.7 797.3L602.7 797.3L602.7 797.3L602.8 797.3L602.8 797.3L602.8 797.3L602.9 797.2L602.9 797.2L603.0 797.2L603.0 797.2L603.0 797.2L603.1 797.2L603.1 797.2L603.2 797.1L603.2 797.1L603.2 797.1L603.3 797.1L603.3 797.1L603.4 797.0L603.4 797.0L603.5 797.0L603.5 796.9L603.6 796.9L603.6 796.9L603.6 796.9L603.7 796.8L603.7 796.8L603.8 796.8L603.8 796.7L603.9 796.7L603.9 796.7L604.0 796.6L604.0 796.6L604.1 796.5L604.1 796.5L604.2 796.4L604.2 796.4L604.3 796.4L604.4 796.3L604.4 796.3L604.5 796.2L604.5 796.2L604.6 796.1L604.6 796.1L604.7 796.0L604.7 796.0L604.8 795.9L604.9 795.8L604.9 795.8L605.0 795.7L605.1 795.7L605.1 795.6L605.2 795.6L605.2 795.5L605.3 795.4L605.4 795.4L605.4 795.3L605.5 795.3L605.6 795.2L605.7 795.2L605.7 795.1L605.8 795.0L605.9 795.0L605.9 794.9L606.0 794.9L606.1 794.8L606.2 794.7L606.2 794.7L606.3 794.6L606.4 794.5L606.5 794.5L606.5 794.4L606.6 794.4L606.7 794.3L606.8 794.2L606.9 794.2L607.0 794.1L607.0 794.1L607.1 794.0L607.2 793.9L607.3 793.9L607.4 793.8L607.5 793.7L607.6 793.7L607.7 793.6L607.8 793.6L607.9 793.5L608.0 793.4L608.0 793.4L608.1 793.3L608.2 793.2L608.3 793.2L608.4 793.1L608.5 793.0L608.7 793.0L608.8 792.9L608.9 792.8L609.0 792.8L609.1 792.7L609.2 792.6L609.3 792.6L609.4 792.5L609.5 792.4L609.6 792.3L609.8 792.3L609.9 792.2L610.0 792.1L610.1 792.1L610.2 792.0L610.4 791.9L610.5 791.8L610.6 791.8L610.7 791.7L610.9 791.6L611.0 791.5L611.1 791.5L611.3 791.4L611.4 791.3L611.5 791.2L611.7 791.2L611.8 791.1L612.0 791.0L612.1 790.9L612.2 790.8L612.4 790.8L612.5 790.7L612.7 790.6L612.8 790.5L613.0 790.5L613.1 790.4L613.3 790.3L613.5 790.2L613.6 790.2L613.8 790.1L613.9 790.0L614.1 789.9L614.3 789.9L614.5 789.8L614.6 789.7L614.8 789.7L615.0 789.6L615.2 789.5L615.3 789.4L615.5 789.4L615.7 789.3L615.9 789.2L616.1 789.1L616.3 789.1L616.5 789.0L616.7 788.9L616.9 788.9L617.1 788.8L617.3 788.7L617.5 788.6L617.7 788.6L617.9 788.5L618.1 788.4L618.3 788.3L618.5 788.2L618.7 788.2L619.0 788.1L619.2 788.0L619.4 787.9L619.6 787.9L619.9 787.8L620.1 787.7L620.3 787.6L620.6 787.6L620.8 787.5L621.1 787.4L621.3 787.3L621.6 787.3L621.8 787.2L622.1 787.1L622.3 787.0L622.6 787.0L622.9 786.9L623.1 786.8L623.4 786.7L623.7 786.7L624.0 786.6L624.2 786.5L624.5 786.4L624.8 786.4L625.1 786.3L625.4 786.2L625.7 786.1L626.0 786.1L626.3 786.0L626.6 785.9L626.9 785.8L627.3 785.7L627.6 785.7L627.9 785.6L628.2 785.5L628.6 785.4L628.9 785.3L629.2 785.2L629.6 785.1L629.9 785.0L630.3 784.9L630.6 784.8L631.0 784.8L631.4 784.7L631.7 784.6L632.1 784.5L632.5 784.4L632.9 784.3L633.2 784.2L633.6 784.1L634.0 784.0L634.4 783.9L634.8 783.8L635.2 783.7L635.6 783.6L636.1 783.5L636.5 783.4L636.9 783.3L637.3 783.1L637.8 783.0L638.2 782.9L638.7 782.8L639.1 782.7L639.6 782.6L640.0 782.5L640.5 782.4L641.0 782.3L641.5 782.2L641.9 782.1L642.4 781.9L642.9 781.8L643.4 781.7L643.9 781.6L644.5 781.5L645.0 781.3L645.5 781.2L646.0 781.1L646.6 781.0L647.1 780.8L647.7 780.7L648.2 780.6L648.8 780.5L649.4 780.3L649.9 780.2L650.5 780.1L651.1 779.9L651.7 779.8L652.3 779.7L652.9 779.6L653.5 779.4L654.2 779.3L654.8 779.2L655.4 779.0L656.1 778.9L656.7 778.8L657.4 778.6L658.1 778.5L658.7 778.4L659.4 778.2L660.1 778.1L660.8 778.0L661.5 777.9L662.2 777.7L663.0 777.6L663.7 777.5L664.4 777.4L665.2 777.2L665.9 777.1L666.7 777.0L667.5 776.9L668.3 776.8L669.1 776.7L669.9 776.6L670.7 776.5L671.5 776.4L672.3 776.3L673.2 776.1L674.0 776.1L674.9 776.0L675.8 775.9L676.7 775.8L677.5 775.7L678.4 775.6L679.4 775.5L680.3 775.4L681.2 775.3L682.2 775.2L683.1 775.1L684.1 775.0L685.1 774.9L686.1 774.8L687.1 774.7L688.1 774.7L689.1 774.6L690.1 774.5L691.2 774.4L692.2 774.3L693.3 774.2L694.4 774.1L695.5 774.0L696.6 773.9L697.7 773.8L698.9 773.6L700.0 773.5L701.2 773.4L702.4 773.3L703.5 773.2L704.7 773.0L706.0 772.9L707.2 772.8L708.4 772.6L709.7 772.5L711.0 772.3L712.3 772.1L713.6 772.0L714.9 771.8L716.2 771.6L717.6 771.4L718.9 771.3L720.3 771.1L721.7 770.9L723.1 770.7L724.6 770.5L726.0 770.3L727.5 770.0L729.0 769.8L730.5 769.6L732.0 769.4L733.5 769.2L735.1 768.9L736.6 768.7L738.2 768.5L739.8 768.3L741.4 768.0L743.1 767.8L744.7 767.5L746.4 767.3L748.1 767.1L749.8 766.8L751.6 766.6L753.3 766.4L755.1 766.1L756.9 765.9L758.7 765.7L760.6 765.5L762.5 765.2L764.3 765.0L766.2 764.8L768.2 764.6L770.1 764.4L772.1 764.2L774.1 764.1L776.1 763.9L778.2 763.7L780.2 763.6L782.3 763.4L784.4 763.3L786.6 763.1L788.7 763.0L790.9 762.8L793.2 762.6L795.4 762.5L797.7 762.3L800.0 762.1L802.3 761.9L804.6 761.7L807.0 761.5L809.4 761.3L811.8 761.1L814.3 760.8L816.8 760.5L819.3 760.2L821.8 759.9L824.4 759.6L827.0 759.2L829.6 758.9L832.3 758.5L835.0 758.1L837.7 757.7L840.5 757.2L843.3 756.8L846.1 756.3L848.9 755.8L851.8 755.4L854.8 754.9L857.7 754.4L860.7 753.8L863.7 753.3L866.8 752.8L869.9 752.3L873.0 751.7L876.2 751.2L879.4 750.6L882.6 750.1L885.9 749.5L889.2 748.9L892.6 748.4L895.9 747.8L899.4 747.2L902.8 746.6L906.4 745.9L909.9 745.3L913.5 744.6L917.1 744.0L920.8 743.3L924.5 742.6L928.3 741.8L932.1 741.1L936.0 740.3L939.9 739.5L943.8 738.7L947.8 737.8L951.8 736.9L955.9 736.0L960.0 735.1L964.2 734.1L968.4 733.1L972.7 732.1L977.0 731.0L981.4 729.9L985.8 728.7L990.3 727.5L994.8 726.3L999.4 725.0L1004.0 723.7L1008.7 722.3L1013.4 720.9L1018.2 719.5L1023.0 718.0L1028.0 716.4L1032.9 714.8L1037.9 713.2L1043.0 711.5L1048.1 709.7L1053.3 707.9L1058.6 706.1L1063.9 704.2L1069.3 702.3L1074.7 700.3L1080.2 698.3L1085.8 696.4L1091.4 694.3L1097.1 692.3L1102.9 690.3L1108.7 688.2L1114.6 686.2L1120.6 684.1L1126.6 682.1L1132.7 680.0L1138.9 678.0L1145.1 676.0L1151.4 674.0L1157.8 672.0L1164.3 670.1L1170.8 668.1L1177.4 666.1L1184.1 664.0L1190.9 661.9L1197.7 659.7L1204.7 657.4L1211.7 654.9L1218.8 652.4L1225.9 649.6L1233.2 646.7L1240.5 643.6L1247.9 640.3L1255.4 636.8L1263.0 633.0L1270.7 629.0L1278.5 624.7L1286.4 620.1L1294.3 615.2L1302.3 609.9L1310.5 604.2L1318.7 598.1L1327.0 591.4L1335.5 584.2L1344.0 576.3L1352.6 567.6L1361.3 558.1L1370.1 547.8L1379.1 536.6L1388.1 524.3L1397.2 511.0L1406.5 496.6L1415.8 481.0L1425.3 464.1L1434.8 445.9L1444.5 426.3L1454.3 405.2L1464.2 382.6L1474.2 358.4L1484.3 332.6L1494.6 305.4L1504.9 276.8L1515.4 247.2L1526.0 216.8L1536.7 185.6L1547.6 153.9L1558.6 122.0L1569.7 90.0L1580.9 58.0L1592.3 26.4L1603.7 -4.8L1615.4 -35.3L1627.1 -64.9L1639.0 -93.4L1651.1 -120.7L1663.3 -146.5L1675.6 -170.7L1688.0 -193.0L1700.6 -213.2L1713.4 -231.4L1726.3 -247.7L1739.3 -262.6L1752.5 -276.7L1765.9 -290.2L1779.4 -303.7L1793.0 -317.6L1806.8 -332.3L1820.8 -348.3L1835.0 -366.0L1849.3 -385.8L1863.7 -408.3L1878.4 -433.7L1893.2 -462.6L1908.2 -495.5L1923.3 -532.6L1938.7 -574.6L1954.2 -621.7L1969.9 -674.5L1985.7 -733.5L2001.8 -798.7L2017.9 -869.9L2034.2 -946.3L2050.4 -1027.3L2066.7 -1112.2L2082.8 -1200.5L2098.8 -1291.4L2114.7 -1384.4L2130.2 -1478.7L2145.5 -1573.7L2160.4 -1668.9L2174.9 -1763.4L2189.0 -1856.8L2202.5 -1948.3L2215.5 -2037.3L2227.9 -2123.1L2239.5 -2205.2L2250.5 -2282.8L2260.6 -2355.3L2270.0 -2422.2L2278.4 -2482.8L2286.0 -2537.3L2292.9 -2586.1L2298.9 -2629.5L2304.3 -2667.8L2308.9 -2701.3L2313.0 -2730.4L2316.5 -2755.3L2319.4 -2776.4L2321.9 -2793.9L2323.9 -2808.3L2325.5 -2819.8L2326.7 -2828.8L2327.7 -2835.6L2328.3 -2840.4L2328.8 -2843.6L2329.1 -2845.6L2329.2 -2846.6L2329.3 -2847.0L2329.3 -2847.0" fill="none" stroke="#ff0080" stroke-width="1.5" stroke-linejoin="round"/><circle cx="599.8" cy="764.9" r="3.7" fill="#fff" stroke="#ff0080" stroke-width="2.1"/><circle cx="599.8" cy="769.0" r="3.7" fill="#fff" stroke="#ff0080" stroke-width="2.1"/><circle cx="599.9" cy="772.5" r="3.7" fill="#fff" stroke="#ff0080" stroke-width="2.1"/><circle cx="599.9" cy="776.0" r="3.7" fill="#fff" stroke="#ff0080" stroke-width="2.1"/><circle cx="600.0" cy="779.5" r="3.7" fill="#fff" stroke="#ff0080" stroke-width="2.1"/><circle cx="600.1" cy="783.0" r="3.7" fill="#fff" stroke="#ff0080" stroke-width="2.1"/><circle cx="600.3" cy="786.5" r="3.7" fill="#fff" stroke="#ff0080" stroke-width="2.1"/><circle cx="600.5" cy="789.7" r="3.7" fill="#fff" stroke="#ff0080" stroke-width="2.1"/><circle cx="600.7" cy="792.1" r="3.7" fill="#fff" stroke="#ff0080" stroke-width="2.1"/><circle cx="601.0" cy="794.4" r="3.7" fill="#fff" stroke="#ff0080" stroke-width="2.1"/><circle cx="601.3" cy="796.2" r="3.7" fill="#fff" stroke="#ff0080" stroke-width="2.1"/><circle cx="601.8" cy="797.1" r="3.7" fill="#fff" stroke="#ff0080" stroke-width="2.1"/><circle cx="602.3" cy="797.4" r="3.7" fill="#fff" stroke="#ff0080" stroke-width="2.1"/><circle cx="603.1" cy="797.2" r="3.7" fill="#fff" stroke="#ff0080" stroke-width="2.1"/><circle cx="603.9" cy="796.7" r="3.7" fill="#fff" stroke="#ff0080" stroke-width="2.1"/><circle cx="605.1" cy="795.7" r="3.7" fill="#fff" stroke="#ff0080" stroke-width="2.1"/><circle cx="606.5" cy="794.4" r="3.7" fill="#fff" stroke="#ff0080" stroke-width="2.1"/><circle cx="608.3" cy="793.2" r="3.7" fill="#fff" stroke="#ff0080" stroke-width="2.1"/><circle cx="610.5" cy="791.8" r="3.7" fill="#fff" stroke="#ff0080" stroke-width="2.1"/><circle cx="613.3" cy="790.2" r="3.7" fill="#fff" stroke="#ff0080" stroke-width="2.1"/><circle cx="616.9" cy="788.8" r="3.7" fill="#fff" stroke="#ff0080" stroke-width="2.1"/><circle cx="621.4" cy="787.2" r="3.7" fill="#fff" stroke="#ff0080" stroke-width="2.1"/><circle cx="627.0" cy="785.8" r="3.7" fill="#fff" stroke="#ff0080" stroke-width="2.1"/><circle cx="634.1" cy="783.9" r="3.7" fill="#fff" stroke="#ff0080" stroke-width="2.1"/><circle cx="643.0" cy="781.8" r="3.7" fill="#fff" stroke="#ff0080" stroke-width="2.1"/><circle cx="654.3" cy="779.2" r="3.7" fill="#fff" stroke="#ff0080" stroke-width="2.1"/><circle cx="668.5" cy="776.5" r="3.7" fill="#fff" stroke="#ff0080" stroke-width="2.1"/><circle cx="686.3" cy="774.8" r="3.7" fill="#fff" stroke="#ff0080" stroke-width="2.1"/><circle cx="708.7" cy="772.8" r="3.7" fill="#fff" stroke="#ff0080" stroke-width="2.1"/><circle cx="737.0" cy="768.6" r="3.7" fill="#fff" stroke="#ff0080" stroke-width="2.1"/><circle cx="772.6" cy="763.5" r="3.7" fill="#fff" stroke="#ff0080" stroke-width="2.1"/><circle cx="817.4" cy="761.6" r="3.7" fill="#fff" stroke="#ff0080" stroke-width="2.1"/><circle cx="873.7" cy="751.4" r="3.7" fill="#fff" stroke="#ff0080" stroke-width="2.1"/><circle cx="944.7" cy="739.7" r="3.7" fill="#fff" stroke="#ff0080" stroke-width="2.1"/><circle cx="1034.1" cy="716.7" r="3.7" fill="#fff" stroke="#ff0080" stroke-width="2.1"/><circle cx="1146.6" cy="672.5" r="3.7" fill="#fff" stroke="#ff0080" stroke-width="2.1"/><circle cx="1288.2" cy="637.4" r="3.7" fill="#fff" stroke="#ff0080" stroke-width="2.1"/><circle cx="1466.5" cy="469.0" r="3.7" fill="#fff" stroke="#ff0080" stroke-width="2.1"/><circle cx="1690.9" cy="-362.7" r="3.7" fill="#fff" stroke="#ff0080" stroke-width="2.1"/><circle cx="1973.5" cy="-297.8" r="3.7" fill="#fff" stroke="#ff0080" stroke-width="2.1"/><circle cx="2329.3" cy="-2847.0" r="3.7" fill="#fff" stroke="#ff0080" stroke-width="2.1"/></g>
<rect x="599.6" y="463.7" width="518.9" height="384.5" fill="none" stroke="#000" stroke-width="3"/>
<path d="M599.6 814.6H607.6M599.6 770.7H604.2M599.6 726.9H607.6M599.6 683.0H604.2M599.6 639.1H607.6M599.6 595.3H604.2M599.6 551.4H607.6M599.6 507.6H604.2M642.8 848.2V844.3M686.1 848.2V840.5M729.3 848.2V844.3M772.6 848.2V840.5M815.8 848.2V844.3M859.0 848.2V840.5M902.3 848.2V844.3M945.5 848.2V840.5M988.8 848.2V844.3M1032.0 848.2V840.5M1075.3 848.2V844.3" fill="none" stroke="#000" stroke-width="2.7" stroke-linecap="butt"/>
<g font-size="40">
<text x="592" y="827.2" text-anchor="end">0</text>
<text x="592" y="739.5" text-anchor="end">5</text>
<text x="592" y="651.8" text-anchor="end">10</text>
<text x="592" y="564.0" text-anchor="end">15</text>
<text x="592" y="476.3" text-anchor="end">20</text>
<text x="599.6" y="888" text-anchor="middle">0</text>
<text x="686.1" y="888" text-anchor="middle">5</text>
<text x="772.6" y="888" text-anchor="middle">10</text>
<text x="859.0" y="888" text-anchor="middle">15</text>
<text x="945.5" y="888" text-anchor="middle">20</text>
<text x="1032.0" y="888" text-anchor="middle">25</text>
<text x="1118.5" y="888" text-anchor="middle">30</text>
</g>
</svg></body></html>
